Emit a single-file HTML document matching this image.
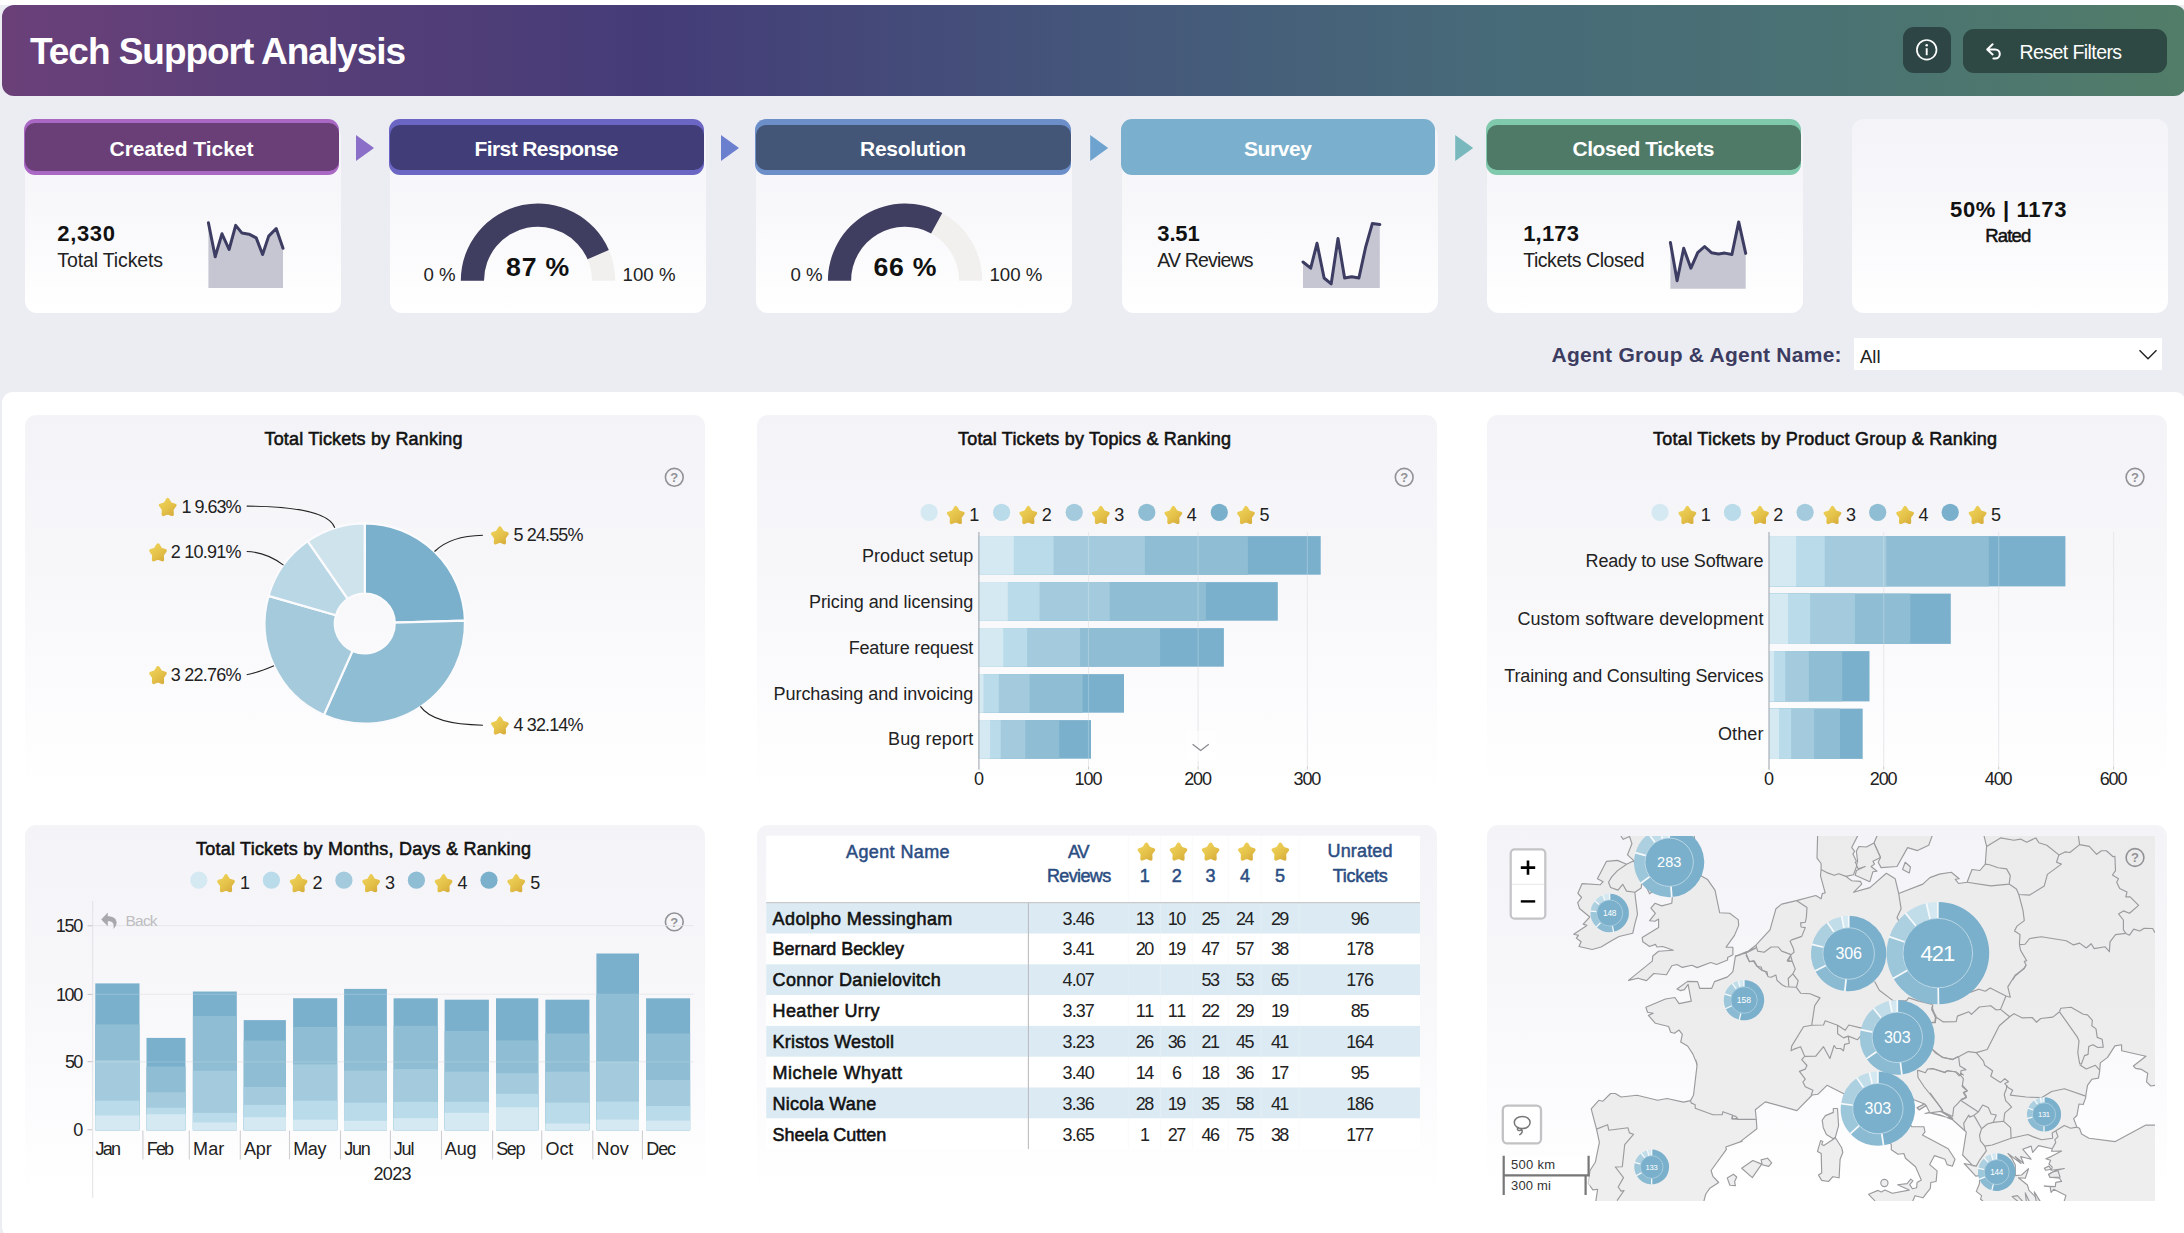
<!DOCTYPE html>
<html lang="en"><head><meta charset="utf-8"><title>Tech Support Analysis</title>
<style>
html,body{margin:0;padding:0;}
body{width:2184px;height:1233px;overflow:hidden;position:relative;background:#ecedf3;font-family:"Liberation Sans", sans-serif;}
#top{position:absolute;left:0;top:0;width:2184px;height:5px;background:#fff;}
#boxes div{position:absolute;box-sizing:border-box;}
#ov{position:absolute;left:0;top:0;}
#ov text{font-family:"Liberation Sans", sans-serif;}
</style></head><body>
<div id="top"></div>
<div id="boxes">
<div style="left:2px;top:5px;width:2184px;height:91px;border-radius:12px;background:linear-gradient(90deg,#6b4079 0%,#5a3f78 12%,#443c77 30%,#44567a 50%,#476a78 68%,#4a7273 84%,#4e786d 93%,#527d68 100%);"></div>
<div style="left:1903px;top:27px;width:48px;height:46px;border-radius:11px;background:#2d4645;"></div>
<div style="left:1963px;top:29px;width:204px;height:44px;border-radius:11px;background:#2e4843;"></div>
<div style="left:25px;top:125px;width:316px;height:187.5px;background:linear-gradient(180deg,#f4f4f8 0%,#f8f8fb 45%,#ffffff 100%);border-radius:12px;"></div>
<div style="left:24px;top:119px;width:315px;height:55.5px;border-radius:11px;background:#a968c4;"></div>
<div style="left:24.5px;top:123.2px;width:314px;height:48.2px;border-radius:10px;background:#6a3f77;"></div>
<div style="left:389.5px;top:125px;width:316px;height:187.5px;background:linear-gradient(180deg,#f4f4f8 0%,#f8f8fb 45%,#ffffff 100%);border-radius:12px;"></div>
<div style="left:389px;top:119px;width:315px;height:55.5px;border-radius:11px;background:#6b66c4;"></div>
<div style="left:389.5px;top:125px;width:314px;height:44.6px;border-radius:10px;background:#403d78;"></div>
<div style="left:755.5px;top:125px;width:316px;height:187.5px;background:linear-gradient(180deg,#f4f4f8 0%,#f8f8fb 45%,#ffffff 100%);border-radius:12px;"></div>
<div style="left:755px;top:119px;width:316px;height:55.5px;border-radius:11px;background:#6d8fc9;"></div>
<div style="left:755.5px;top:125px;width:315px;height:44.6px;border-radius:10px;background:#435678;"></div>
<div style="left:1122px;top:125px;width:316px;height:187.5px;background:linear-gradient(180deg,#f4f4f8 0%,#f8f8fb 45%,#ffffff 100%);border-radius:12px;"></div>
<div style="left:1121px;top:119px;width:314px;height:55.5px;border-radius:11px;background:#7ab0cd;"></div>
<div style="left:1487px;top:125px;width:316px;height:187.5px;background:linear-gradient(180deg,#f4f4f8 0%,#f8f8fb 45%,#ffffff 100%);border-radius:12px;"></div>
<div style="left:1486px;top:119px;width:315px;height:55.5px;border-radius:11px;background:#81c9ad;"></div>
<div style="left:1486.5px;top:125px;width:314px;height:44.6px;border-radius:10px;background:#4f7a68;"></div>
<div style="left:1852px;top:119px;width:315.5px;height:193.5px;background:linear-gradient(180deg,#f4f4f8 0%,#f8f8fb 45%,#ffffff 100%);border-radius:12px;"></div>
<div style="left:1854px;top:338px;width:308px;height:31.7px;background:#fff;"></div>
<div style="left:2px;top:392px;width:2184px;height:846px;background:#fff;border-radius:11px;"></div>
<div style="left:25px;top:415px;width:680px;height:380px;border-radius:11px;background:linear-gradient(180deg,#f4f4f8 0%,#f7f7fa 40%,#fdfdfe 85%,#ffffff 100%);"></div>
<div style="left:25px;top:825px;width:680px;height:372px;border-radius:11px;background:linear-gradient(180deg,#f4f4f8 0%,#f7f7fa 40%,#fdfdfe 85%,#ffffff 100%);"></div>
<div style="left:757px;top:415px;width:680px;height:380px;border-radius:11px;background:linear-gradient(180deg,#f4f4f8 0%,#f7f7fa 40%,#fdfdfe 85%,#ffffff 100%);"></div>
<div style="left:757px;top:825px;width:680px;height:372px;border-radius:11px;background:linear-gradient(180deg,#f4f4f8 0%,#f7f7fa 40%,#fdfdfe 85%,#ffffff 100%);"></div>
<div style="left:1487px;top:415px;width:680px;height:380px;border-radius:11px;background:linear-gradient(180deg,#f4f4f8 0%,#f7f7fa 40%,#fdfdfe 85%,#ffffff 100%);"></div>
<div style="left:1487px;top:825px;width:680px;height:372px;border-radius:11px;background:linear-gradient(180deg,#f4f4f8 0%,#f7f7fa 40%,#fdfdfe 85%,#ffffff 100%);"></div>
</div>
<svg id="ov" width="2184" height="1233" viewBox="0 0 2184 1233">
<defs><symbol id="star" overflow="visible"><path d="M0.00,-7.40 L2.62,-3.15 L7.13,-1.75 L4.23,2.28 L4.41,7.39 L0.00,5.63 L-4.41,7.39 L-4.23,2.28 L-7.13,-1.75 L-2.62,-3.15 Z" fill="url(#sg)" stroke="url(#sg)" stroke-width="3.4" stroke-linejoin="round"/></symbol><linearGradient id="sg" gradientUnits="userSpaceOnUse" x1="-7" y1="-8" x2="7" y2="9"><stop offset="0" stop-color="#efd25a"/><stop offset="0.5" stop-color="#e5c34a"/><stop offset="1" stop-color="#d5a939"/></linearGradient></defs>
<text x="30.0" y="64.0" font-size="37" font-weight="700" fill="#fff" textLength="376.0" lengthAdjust="spacing">Tech Support Analysis</text>
<g transform="translate(1926.7,49.8)"><circle r="9.8" fill="none" stroke="#fff" stroke-width="1.7"/><rect x="-0.95" y="-1.6" width="1.9" height="7" fill="#fff"/><circle cy="-4.6" r="1.25" fill="#fff"/></g>
<path d="M1992.6,44.2 L1987.2,49.4 L1992.6,54.4 M1987.6,49.4 H1995.2 a4.6,4.6 0 0 1 0,9.2 H1993.4" fill="none" stroke="#fff" stroke-width="2" stroke-linecap="round" stroke-linejoin="round"/>
<text x="2019.6" y="59.0" font-size="19.5" fill="#fff" textLength="102.5" lengthAdjust="spacing">Reset Filters</text>
<text x="181.5" y="156.3" font-size="21" font-weight="700" fill="#fff" text-anchor="middle" textLength="144.0" lengthAdjust="spacing">Created Ticket</text>
<path d="M356,135 L374,148 L356,161 Z" fill="#8a6ec8"/>
<text x="546.5" y="156.3" font-size="21" font-weight="700" fill="#fff" text-anchor="middle" textLength="144.0" lengthAdjust="spacing">First Response</text>
<path d="M721,135 L739,148 L721,161 Z" fill="#6b7fcf"/>
<text x="913.0" y="156.3" font-size="21" font-weight="700" fill="#fff" text-anchor="middle" textLength="106.0" lengthAdjust="spacing">Resolution</text>
<path d="M1090.2,135 L1108.2,148 L1090.2,161 Z" fill="#6fa3cf"/>
<text x="1278.0" y="156.3" font-size="21" font-weight="700" fill="#fff" text-anchor="middle" textLength="68.0" lengthAdjust="spacing">Survey</text>
<path d="M1455.2,135 L1473.2,148 L1455.2,161 Z" fill="#79b9bd"/>
<text x="1643.5" y="156.3" font-size="21" font-weight="700" fill="#fff" text-anchor="middle" textLength="142.0" lengthAdjust="spacing">Closed Tickets</text>
<text x="57.3" y="241.0" font-size="22" font-weight="700" fill="#111" textLength="57.7" lengthAdjust="spacing">2,330</text>
<text x="57.3" y="266.5" font-size="19.5" fill="#222" textLength="105.7" lengthAdjust="spacing">Total Tickets</text>
<path d="M208.4,222.8 L215.2,256.7 L222.0,233.8 L229.1,249.5 L235.7,225.4 L242.0,233.1 L249.0,234.2 L256.2,237.9 L262.6,254.5 L268.7,236.1 L276.2,228.5 L283.0,248.3 L283.0,287.9 L208.4,287.9 Z" fill="#c6c6d2"/>
<path d="M208.4,222.8 L215.2,256.7 L222.0,233.8 L229.1,249.5 L235.7,225.4 L242.0,233.1 L249.0,234.2 L256.2,237.9 L262.6,254.5 L268.7,236.1 L276.2,228.5 L283.0,248.3" fill="none" stroke="#3d3d63" stroke-width="3" stroke-linejoin="round" stroke-linecap="round"/>
<path d="M460.80,280.70 A77.2,77.2 0 0 1 615.20,280.70 L592.00,280.70 A54,54 0 0 0 484.00,280.70 Z" fill="#f1f0ee"/>
<path d="M460.80,280.70 A77.2,77.2 0 0 1 608.85,250.04 L587.56,259.25 A54,54 0 0 0 484.00,280.70 Z" fill="#403e60"/>
<text x="537.6" y="276.2" font-size="26.67" font-weight="700" fill="#111" text-anchor="middle" textLength="63.0" lengthAdjust="spacing">87 %</text>
<text x="423.4" y="280.7" font-size="18.67" fill="#222">0 %</text>
<text x="622.6" y="280.7" font-size="18.67" fill="#222">100 %</text>
<path d="M827.90,280.70 A77.2,77.2 0 0 1 982.30,280.70 L959.10,280.70 A54,54 0 0 0 851.10,280.70 Z" fill="#f1f0ee"/>
<path d="M827.90,280.70 A77.2,77.2 0 0 1 942.29,213.05 L931.11,233.38 A54,54 0 0 0 851.10,280.70 Z" fill="#403e60"/>
<text x="904.9" y="276.2" font-size="26.67" font-weight="700" fill="#111" text-anchor="middle" textLength="63.0" lengthAdjust="spacing">66 %</text>
<text x="790.5" y="280.7" font-size="18.67" fill="#222">0 %</text>
<text x="989.4" y="280.7" font-size="18.67" fill="#222">100 %</text>
<text x="1157.3" y="241.0" font-size="22" font-weight="700" fill="#111" textLength="42.4" lengthAdjust="spacing">3.51</text>
<text x="1157.3" y="266.5" font-size="19.5" fill="#222" textLength="96.3" lengthAdjust="spacing">AV Reviews</text>
<path d="M1303.0,262.0 L1310.7,268.2 L1317.0,243.3 L1324.1,278.0 L1331.2,283.8 L1338.0,238.5 L1344.6,278.0 L1351.7,276.8 L1358.9,278.0 L1365.5,247.7 L1372.3,223.6 L1379.8,224.5 L1379.8,287.9 L1303.0,287.9 Z" fill="#c6c6d2"/>
<path d="M1303.0,262.0 L1310.7,268.2 L1317.0,243.3 L1324.1,278.0 L1331.2,283.8 L1338.0,238.5 L1344.6,278.0 L1351.7,276.8 L1358.9,278.0 L1365.5,247.7 L1372.3,223.6 L1379.8,224.5" fill="none" stroke="#3d3d63" stroke-width="3" stroke-linejoin="round" stroke-linecap="round"/>
<text x="1523.2" y="241.0" font-size="22" font-weight="700" fill="#111" textLength="55.8" lengthAdjust="spacing">1,173</text>
<text x="1523.2" y="267.4" font-size="19.5" fill="#222" textLength="121.3" lengthAdjust="spacing">Tickets Closed</text>
<path d="M1670.4,242.4 L1677.1,280.7 L1683.7,248.3 L1690.9,268.2 L1697.7,252.7 L1704.6,246.5 L1711.4,252.7 L1718.5,254.0 L1724.8,253.1 L1731.9,254.5 L1738.7,221.9 L1745.7,253.4 L1745.7,288.8 L1670.4,288.8 Z" fill="#c6c6d2"/>
<path d="M1670.4,242.4 L1677.1,280.7 L1683.7,248.3 L1690.9,268.2 L1697.7,252.7 L1704.6,246.5 L1711.4,252.7 L1718.5,254.0 L1724.8,253.1 L1731.9,254.5 L1738.7,221.9 L1745.7,253.4" fill="none" stroke="#3d3d63" stroke-width="3" stroke-linejoin="round" stroke-linecap="round"/>
<text x="2008.2" y="216.9" font-size="22" font-weight="700" fill="#111" text-anchor="middle" textLength="116.4" lengthAdjust="spacing">50% | 1173</text>
<text x="2008.2" y="241.8" font-size="18.5" fill="#111" text-anchor="middle" textLength="46.0" lengthAdjust="spacing" stroke="#111" stroke-width="0.5" paint-order="stroke">Rated</text>
<text x="1551.6" y="362.0" font-size="21" font-weight="700" fill="#3c3c61" textLength="290.0" lengthAdjust="spacing">Agent Group &amp; Agent Name:</text>
<text x="1860.0" y="363.4" font-size="18.5" fill="#222">All</text>
<path d="M2139.5,350.3 L2148,358.8 L2156.5,350.3" fill="none" stroke="#222" stroke-width="1.4"/>
<text x="363.5" y="445.4" font-size="18" fill="#111" text-anchor="middle" textLength="198.0" lengthAdjust="spacing" stroke="#111" stroke-width="0.55" paint-order="stroke">Total Tickets by Ranking</text>
<g transform="translate(674.3,477.3)"><circle r="8.9" fill="none" stroke="#929296" stroke-width="1.6"/><text x="0" y="4.6" font-size="13" font-weight="700" fill="#929296" text-anchor="middle">?</text></g>
<path d="M364.80,523.30 A100.2,100.2 0 0 1 464.96,620.67 L394.79,622.65 A30,30 0 0 0 364.80,593.50 Z" fill="#7ab0cc" stroke="#fbfbfd" stroke-width="2.2" stroke-linejoin="round"/>
<path d="M464.96,620.67 A100.2,100.2 0 0 1 323.91,714.98 L352.56,650.89 A30,30 0 0 0 394.79,622.65 Z" fill="#8fbdd3" stroke="#fbfbfd" stroke-width="2.2" stroke-linejoin="round"/>
<path d="M323.91,714.98 A100.2,100.2 0 0 1 268.49,595.85 L335.97,615.22 A30,30 0 0 0 352.56,650.89 Z" fill="#a4cadc" stroke="#fbfbfd" stroke-width="2.2" stroke-linejoin="round"/>
<path d="M268.49,595.85 A100.2,100.2 0 0 1 307.75,541.13 L347.72,598.84 A30,30 0 0 0 335.97,615.22 Z" fill="#b9d7e5" stroke="#fbfbfd" stroke-width="2.2" stroke-linejoin="round"/>
<path d="M307.75,541.13 A100.2,100.2 0 0 1 364.74,523.30 L364.78,593.50 A30,30 0 0 0 347.72,598.84 Z" fill="#cfe3ec" stroke="#fbfbfd" stroke-width="2.2" stroke-linejoin="round"/>
<path d="M246.7,506.1 C292,506.3 329,512 334.8,527.7" fill="none" stroke="#222" stroke-width="1.1"/>
<path d="M246.7,551.5 C262,551.8 274,558 283.5,565.1" fill="none" stroke="#222" stroke-width="1.1"/>
<path d="M246.7,674.8 C256,673 265,669.5 274,665.7" fill="none" stroke="#222" stroke-width="1.1"/>
<path d="M482.9,535.2 C462,535.6 446,540 434.5,551.5" fill="none" stroke="#222" stroke-width="1.1"/>
<path d="M482.9,725.2 C455,724.8 430,720 420.4,706.4" fill="none" stroke="#222" stroke-width="1.1"/>
<use href="#star" transform="translate(167.7,507.0) scale(1.0)"/>
<text x="181.6" y="512.9" font-size="18" fill="#222" textLength="59.9" lengthAdjust="spacing">1 9.63%</text>
<use href="#star" transform="translate(158.0,552.4) scale(1.0)"/>
<text x="170.7" y="558.3" font-size="18" fill="#222" textLength="70.8" lengthAdjust="spacing">2 10.91%</text>
<use href="#star" transform="translate(158.0,675.1) scale(1.0)"/>
<text x="170.7" y="681.0" font-size="18" fill="#222" textLength="70.8" lengthAdjust="spacing">3 22.76%</text>
<use href="#star" transform="translate(499.9,535.4) scale(1.0)"/>
<text x="513.5" y="541.3" font-size="18" fill="#222" textLength="70.0" lengthAdjust="spacing">5 24.55%</text>
<use href="#star" transform="translate(499.9,725.5) scale(1.0)"/>
<text x="513.5" y="731.4" font-size="18" fill="#222" textLength="70.0" lengthAdjust="spacing">4 32.14%</text>
<text x="1094.5" y="445.4" font-size="18" fill="#111" text-anchor="middle" textLength="273.0" lengthAdjust="spacing" stroke="#111" stroke-width="0.55" paint-order="stroke">Total Tickets by Topics &amp; Ranking</text>
<g transform="translate(1404.2,477.3)"><circle r="8.9" fill="none" stroke="#929296" stroke-width="1.6"/><text x="0" y="4.6" font-size="13" font-weight="700" fill="#929296" text-anchor="middle">?</text></g>
<circle cx="929.1" cy="512.4" r="8.6" fill="#d5e9f2"/>
<use href="#star" transform="translate(955.8,515.0) scale(1.0)"/>
<text x="969.2" y="521.1" font-size="18" fill="#222">1</text>
<circle cx="1001.6" cy="512.4" r="8.6" fill="#b9dbea"/>
<use href="#star" transform="translate(1028.3,515.0) scale(1.0)"/>
<text x="1041.8" y="521.1" font-size="18" fill="#222">2</text>
<circle cx="1074.2" cy="512.4" r="8.6" fill="#a4cbdd"/>
<use href="#star" transform="translate(1100.9,515.0) scale(1.0)"/>
<text x="1114.3" y="521.1" font-size="18" fill="#222">3</text>
<circle cx="1146.8" cy="512.4" r="8.6" fill="#8fbdd3"/>
<use href="#star" transform="translate(1173.4,515.0) scale(1.0)"/>
<text x="1186.8" y="521.1" font-size="18" fill="#222">4</text>
<circle cx="1219.3" cy="512.4" r="8.6" fill="#7ab0cc"/>
<use href="#star" transform="translate(1246.0,515.0) scale(1.0)"/>
<text x="1259.4" y="521.1" font-size="18" fill="#222">5</text>
<line x1="1088.5" y1="532" x2="1088.5" y2="766.5" stroke="#e3e3e6" stroke-width="1"/>
<line x1="1198.1" y1="532" x2="1198.1" y2="766.5" stroke="#e3e3e6" stroke-width="1"/>
<line x1="1307.4" y1="532" x2="1307.4" y2="766.5" stroke="#e3e3e6" stroke-width="1"/>
<rect x="978.9" y="536.1" width="341.8" height="38.6" fill="#7ab0cc"/>
<rect x="978.9" y="536.1" width="269.0" height="38.6" fill="#8fbdd3"/>
<rect x="978.9" y="536.1" width="165.9" height="38.6" fill="#a4cbdd"/>
<rect x="978.9" y="536.1" width="74.7" height="38.6" fill="#b9dbea"/>
<rect x="978.9" y="536.1" width="34.9" height="38.6" fill="#d5e9f2"/>
<text x="973.3" y="561.6" font-size="18" fill="#222" text-anchor="end" textLength="111.2" lengthAdjust="spacing">Product setup</text>
<rect x="978.9" y="582.1" width="298.9" height="38.6" fill="#7ab0cc"/>
<rect x="978.9" y="582.1" width="227.0" height="38.6" fill="#8fbdd3"/>
<rect x="978.9" y="582.1" width="130.8" height="38.6" fill="#a4cbdd"/>
<rect x="978.9" y="582.1" width="60.7" height="38.6" fill="#b9dbea"/>
<rect x="978.9" y="582.1" width="28.9" height="38.6" fill="#d5e9f2"/>
<text x="973.3" y="607.7" font-size="18" fill="#222" text-anchor="end" textLength="164.4" lengthAdjust="spacing">Pricing and licensing</text>
<rect x="978.9" y="628.1" width="245.0" height="38.6" fill="#7ab0cc"/>
<rect x="978.9" y="628.1" width="181.2" height="38.6" fill="#8fbdd3"/>
<rect x="978.9" y="628.1" width="101.2" height="38.6" fill="#a4cbdd"/>
<rect x="978.9" y="628.1" width="48.2" height="38.6" fill="#b9dbea"/>
<rect x="978.9" y="628.1" width="24.3" height="38.6" fill="#d5e9f2"/>
<text x="973.3" y="653.5" font-size="18" fill="#222" text-anchor="end" textLength="124.6" lengthAdjust="spacing">Feature request</text>
<rect x="978.9" y="674.1" width="145.1" height="38.6" fill="#7ab0cc"/>
<rect x="978.9" y="674.1" width="103.7" height="38.6" fill="#8fbdd3"/>
<rect x="978.9" y="674.1" width="50.7" height="38.6" fill="#a4cbdd"/>
<rect x="978.9" y="674.1" width="19.9" height="38.6" fill="#b9dbea"/>
<rect x="978.9" y="674.1" width="4.6" height="38.6" fill="#d5e9f2"/>
<text x="973.3" y="699.5" font-size="18" fill="#222" text-anchor="end" textLength="199.9" lengthAdjust="spacing">Purchasing and invoicing</text>
<rect x="978.9" y="720.1" width="112.1" height="38.6" fill="#7ab0cc"/>
<rect x="978.9" y="720.1" width="80.3" height="38.6" fill="#8fbdd3"/>
<rect x="978.9" y="720.1" width="46.4" height="38.6" fill="#a4cbdd"/>
<rect x="978.9" y="720.1" width="21.8" height="38.6" fill="#b9dbea"/>
<rect x="978.9" y="720.1" width="11.2" height="38.6" fill="#d5e9f2"/>
<text x="973.3" y="745.3" font-size="18" fill="#222" text-anchor="end" textLength="85.3" lengthAdjust="spacing">Bug report</text>
<line x1="1088.5" y1="532" x2="1088.5" y2="766.5" stroke="#ffffff" stroke-opacity="0.22" stroke-width="1.2"/>
<line x1="1198.1" y1="532" x2="1198.1" y2="766.5" stroke="#ffffff" stroke-opacity="0.22" stroke-width="1.2"/>
<line x1="1307.4" y1="532" x2="1307.4" y2="766.5" stroke="#ffffff" stroke-opacity="0.22" stroke-width="1.2"/>
<line x1="978.9" y1="532" x2="978.9" y2="769.5" stroke="#a9b1b8" stroke-width="1.2"/>
<line x1="978.9" y1="766.5" x2="978.9" y2="769.5" stroke="#c8c8cc" stroke-width="1"/>
<text x="978.9" y="785.2" font-size="18" fill="#222" text-anchor="middle">0</text>
<line x1="1088.5" y1="766.5" x2="1088.5" y2="769.5" stroke="#c8c8cc" stroke-width="1"/>
<text x="1088.5" y="785.2" font-size="18" fill="#222" text-anchor="middle" textLength="27.8" lengthAdjust="spacing">100</text>
<line x1="1198.1" y1="766.5" x2="1198.1" y2="769.5" stroke="#c8c8cc" stroke-width="1"/>
<text x="1198.1" y="785.2" font-size="18" fill="#222" text-anchor="middle" textLength="27.8" lengthAdjust="spacing">200</text>
<line x1="1307.4" y1="766.5" x2="1307.4" y2="769.5" stroke="#c8c8cc" stroke-width="1"/>
<text x="1307.4" y="785.2" font-size="18" fill="#222" text-anchor="middle" textLength="27.8" lengthAdjust="spacing">300</text>
<rect x="1185.6" y="731" width="31" height="30" fill="#ffffff" fill-opacity="0.55"/>
<path d="M1192.6,744.2 L1200.7,750.4 L1208.8,744.2" fill="none" stroke="#8a8a8e" stroke-width="1.3"/>
<text x="1825.0" y="445.4" font-size="18" fill="#111" text-anchor="middle" textLength="344.0" lengthAdjust="spacing" stroke="#111" stroke-width="0.55" paint-order="stroke">Total Tickets by Product Group &amp; Ranking</text>
<g transform="translate(2135,477.3)"><circle r="8.9" fill="none" stroke="#929296" stroke-width="1.6"/><text x="0" y="4.6" font-size="13" font-weight="700" fill="#929296" text-anchor="middle">?</text></g>
<circle cx="1660.0" cy="512.4" r="8.6" fill="#d5e9f2"/>
<use href="#star" transform="translate(1687.4,515.0) scale(1.0)"/>
<text x="1700.8" y="521.1" font-size="18" fill="#222">1</text>
<circle cx="1732.5" cy="512.4" r="8.6" fill="#b9dbea"/>
<use href="#star" transform="translate(1760.0,515.0) scale(1.0)"/>
<text x="1773.3" y="521.1" font-size="18" fill="#222">2</text>
<circle cx="1805.1" cy="512.4" r="8.6" fill="#a4cbdd"/>
<use href="#star" transform="translate(1832.5,515.0) scale(1.0)"/>
<text x="1845.9" y="521.1" font-size="18" fill="#222">3</text>
<circle cx="1877.7" cy="512.4" r="8.6" fill="#8fbdd3"/>
<use href="#star" transform="translate(1905.1,515.0) scale(1.0)"/>
<text x="1918.4" y="521.1" font-size="18" fill="#222">4</text>
<circle cx="1950.2" cy="512.4" r="8.6" fill="#7ab0cc"/>
<use href="#star" transform="translate(1977.6,515.0) scale(1.0)"/>
<text x="1991.0" y="521.1" font-size="18" fill="#222">5</text>
<line x1="1883.7" y1="532" x2="1883.7" y2="766.5" stroke="#e3e3e6" stroke-width="1"/>
<line x1="1998.7" y1="532" x2="1998.7" y2="766.5" stroke="#e3e3e6" stroke-width="1"/>
<line x1="2113.6" y1="532" x2="2113.6" y2="766.5" stroke="#e3e3e6" stroke-width="1"/>
<rect x="1769.0" y="536.1" width="296.4" height="50.3" fill="#7ab0cc"/>
<rect x="1769.0" y="536.1" width="219.8" height="50.3" fill="#8fbdd3"/>
<rect x="1769.0" y="536.1" width="117.4" height="50.3" fill="#a4cbdd"/>
<rect x="1769.0" y="536.1" width="55.7" height="50.3" fill="#b9dbea"/>
<rect x="1769.0" y="536.1" width="27.1" height="50.3" fill="#d5e9f2"/>
<text x="1763.4" y="567.2" font-size="18" fill="#222" text-anchor="end" textLength="177.8" lengthAdjust="spacing">Ready to use Software</text>
<rect x="1769.0" y="593.6" width="181.8" height="50.3" fill="#7ab0cc"/>
<rect x="1769.0" y="593.6" width="141.3" height="50.3" fill="#8fbdd3"/>
<rect x="1769.0" y="593.6" width="85.9" height="50.3" fill="#a4cbdd"/>
<rect x="1769.0" y="593.6" width="41.1" height="50.3" fill="#b9dbea"/>
<rect x="1769.0" y="593.6" width="19.0" height="50.3" fill="#d5e9f2"/>
<text x="1763.4" y="624.5" font-size="18" fill="#222" text-anchor="end" textLength="246.0" lengthAdjust="spacing">Custom software development</text>
<rect x="1769.0" y="651.1" width="100.5" height="50.3" fill="#7ab0cc"/>
<rect x="1769.0" y="651.1" width="73.2" height="50.3" fill="#8fbdd3"/>
<rect x="1769.0" y="651.1" width="39.8" height="50.3" fill="#a4cbdd"/>
<rect x="1769.0" y="651.1" width="16.2" height="50.3" fill="#b9dbea"/>
<rect x="1769.0" y="651.1" width="5.0" height="50.3" fill="#d5e9f2"/>
<text x="1763.4" y="682.4" font-size="18" fill="#222" text-anchor="end" textLength="259.1" lengthAdjust="spacing">Training and Consulting Services</text>
<rect x="1769.0" y="708.6" width="93.7" height="50.3" fill="#7ab0cc"/>
<rect x="1769.0" y="708.6" width="71.0" height="50.3" fill="#8fbdd3"/>
<rect x="1769.0" y="708.6" width="45.1" height="50.3" fill="#a4cbdd"/>
<rect x="1769.0" y="708.6" width="22.1" height="50.3" fill="#b9dbea"/>
<rect x="1769.0" y="708.6" width="10.0" height="50.3" fill="#d5e9f2"/>
<text x="1763.4" y="739.7" font-size="18" fill="#222" text-anchor="end" textLength="45.5" lengthAdjust="spacing">Other</text>
<line x1="1883.7" y1="532" x2="1883.7" y2="766.5" stroke="#ffffff" stroke-opacity="0.22" stroke-width="1.2"/>
<line x1="1998.7" y1="532" x2="1998.7" y2="766.5" stroke="#ffffff" stroke-opacity="0.22" stroke-width="1.2"/>
<line x1="2113.6" y1="532" x2="2113.6" y2="766.5" stroke="#ffffff" stroke-opacity="0.22" stroke-width="1.2"/>
<line x1="1769" y1="532" x2="1769" y2="769.5" stroke="#a9b1b8" stroke-width="1.2"/>
<line x1="1769" y1="766.5" x2="1769" y2="769.5" stroke="#c8c8cc" stroke-width="1"/>
<text x="1769.0" y="785.2" font-size="18" fill="#222" text-anchor="middle">0</text>
<line x1="1883.7" y1="766.5" x2="1883.7" y2="769.5" stroke="#c8c8cc" stroke-width="1"/>
<text x="1883.7" y="785.2" font-size="18" fill="#222" text-anchor="middle" textLength="27.8" lengthAdjust="spacing">200</text>
<line x1="1998.7" y1="766.5" x2="1998.7" y2="769.5" stroke="#c8c8cc" stroke-width="1"/>
<text x="1998.7" y="785.2" font-size="18" fill="#222" text-anchor="middle" textLength="27.8" lengthAdjust="spacing">400</text>
<line x1="2113.6" y1="766.5" x2="2113.6" y2="769.5" stroke="#c8c8cc" stroke-width="1"/>
<text x="2113.6" y="785.2" font-size="18" fill="#222" text-anchor="middle" textLength="27.8" lengthAdjust="spacing">600</text>
<text x="363.5" y="855.0" font-size="18" fill="#111" text-anchor="middle" textLength="335.0" lengthAdjust="spacing" stroke="#111" stroke-width="0.55" paint-order="stroke">Total Tickets by Months, Days &amp; Ranking</text>
<circle cx="198.8" cy="880.2" r="8.6" fill="#d5e9f2"/>
<use href="#star" transform="translate(226.0,883.2) scale(1.0)"/>
<text x="240.0" y="889.3" font-size="18" fill="#222">1</text>
<circle cx="271.4" cy="880.2" r="8.6" fill="#b9dbea"/>
<use href="#star" transform="translate(298.6,883.2) scale(1.0)"/>
<text x="312.6" y="889.3" font-size="18" fill="#222">2</text>
<circle cx="343.9" cy="880.2" r="8.6" fill="#a4cbdd"/>
<use href="#star" transform="translate(371.1,883.2) scale(1.0)"/>
<text x="385.1" y="889.3" font-size="18" fill="#222">3</text>
<circle cx="416.4" cy="880.2" r="8.6" fill="#8fbdd3"/>
<use href="#star" transform="translate(443.6,883.2) scale(1.0)"/>
<text x="457.6" y="889.3" font-size="18" fill="#222">4</text>
<circle cx="489.0" cy="880.2" r="8.6" fill="#7ab0cc"/>
<use href="#star" transform="translate(516.2,883.2) scale(1.0)"/>
<text x="530.2" y="889.3" font-size="18" fill="#222">5</text>
<g transform="translate(674.3,921.9)"><circle r="8.9" fill="none" stroke="#929296" stroke-width="1.6"/><text x="0" y="4.6" font-size="13" font-weight="700" fill="#929296" text-anchor="middle">?</text></g>
<line x1="92.7" y1="925.7" x2="693.7" y2="925.7" stroke="#e6e6ea" stroke-width="1"/>
<line x1="92.7" y1="994.3" x2="693.7" y2="994.3" stroke="#e6e6ea" stroke-width="1"/>
<line x1="92.7" y1="1061.8" x2="693.7" y2="1061.8" stroke="#e6e6ea" stroke-width="1"/>
<line x1="92.7" y1="901" x2="92.7" y2="1198" stroke="#e2e2e6" stroke-width="1"/>
<text x="83.3" y="932.1" font-size="18" fill="#222" text-anchor="end" textLength="27.6" lengthAdjust="spacing">150</text>
<line x1="87.5" y1="925.8000000000001" x2="92.2" y2="925.8000000000001" stroke="#c4c4c8" stroke-width="1"/>
<text x="83.3" y="1000.7" font-size="18" fill="#222" text-anchor="end" textLength="27.4" lengthAdjust="spacing">100</text>
<line x1="87.5" y1="994.4000000000001" x2="92.2" y2="994.4000000000001" stroke="#c4c4c8" stroke-width="1"/>
<text x="83.3" y="1068.0" font-size="18" fill="#222" text-anchor="end" textLength="18.3" lengthAdjust="spacing">50</text>
<line x1="87.5" y1="1061.7" x2="92.2" y2="1061.7" stroke="#c4c4c8" stroke-width="1"/>
<text x="83.3" y="1136.1" font-size="18" fill="#222" text-anchor="end">0</text>
<line x1="87.5" y1="1129.8" x2="92.2" y2="1129.8" stroke="#c4c4c8" stroke-width="1"/>
<rect x="95.3" y="983.4" width="44.2" height="146.8" fill="#7ab0cc"/>
<rect x="95.3" y="1024.4" width="44.2" height="105.8" fill="#8fbdd3"/>
<rect x="95.3" y="1060.2" width="44.2" height="70.0" fill="#a4cbdd"/>
<rect x="95.3" y="1100.7" width="44.2" height="29.5" fill="#b9dbea"/>
<rect x="95.3" y="1115.5" width="44.2" height="14.7" fill="#d5e9f2"/>
<text x="95.5" y="1155.2" font-size="18" fill="#222" textLength="25.5" lengthAdjust="spacing">Jan</text>
<rect x="146.5" y="1037.9" width="39.0" height="92.3" fill="#7ab0cc"/>
<rect x="146.5" y="1066.5" width="39.0" height="63.7" fill="#8fbdd3"/>
<rect x="146.5" y="1092.3" width="39.0" height="37.9" fill="#a4cbdd"/>
<rect x="146.5" y="1107.7" width="39.0" height="22.5" fill="#b9dbea"/>
<rect x="146.5" y="1114.2" width="39.0" height="16.0" fill="#d5e9f2"/>
<text x="146.7" y="1155.2" font-size="18" fill="#222" textLength="27.4" lengthAdjust="spacing">Feb</text>
<rect x="192.9" y="991.5" width="43.9" height="138.7" fill="#7ab0cc"/>
<rect x="192.9" y="1015.9" width="43.9" height="114.3" fill="#8fbdd3"/>
<rect x="192.9" y="1070.8" width="43.9" height="59.4" fill="#a4cbdd"/>
<rect x="192.9" y="1112.9" width="43.9" height="17.3" fill="#b9dbea"/>
<rect x="192.9" y="1122.4" width="43.9" height="7.8" fill="#d5e9f2"/>
<text x="193.1" y="1155.2" font-size="18" fill="#222" textLength="31.2" lengthAdjust="spacing">Mar</text>
<rect x="243.7" y="1020.1" width="42.2" height="110.1" fill="#7ab0cc"/>
<rect x="243.7" y="1040.6" width="42.2" height="89.6" fill="#8fbdd3"/>
<rect x="243.7" y="1087.0" width="42.2" height="43.2" fill="#a4cbdd"/>
<rect x="243.7" y="1104.9" width="42.2" height="25.3" fill="#b9dbea"/>
<rect x="243.7" y="1117.2" width="42.2" height="13.0" fill="#d5e9f2"/>
<text x="243.9" y="1155.2" font-size="18" fill="#222" textLength="27.8" lengthAdjust="spacing">Apr</text>
<rect x="293.1" y="998.2" width="44.1" height="132.0" fill="#7ab0cc"/>
<rect x="293.1" y="1026.9" width="44.1" height="103.3" fill="#8fbdd3"/>
<rect x="293.1" y="1064.4" width="44.1" height="65.8" fill="#a4cbdd"/>
<rect x="293.1" y="1100.7" width="44.1" height="29.5" fill="#b9dbea"/>
<rect x="293.1" y="1119.7" width="44.1" height="10.5" fill="#d5e9f2"/>
<text x="293.3" y="1155.2" font-size="18" fill="#222" textLength="33.1" lengthAdjust="spacing">May</text>
<rect x="344.1" y="988.9" width="42.8" height="141.3" fill="#7ab0cc"/>
<rect x="344.1" y="1025.8" width="42.8" height="104.4" fill="#8fbdd3"/>
<rect x="344.1" y="1070.6" width="42.8" height="59.6" fill="#a4cbdd"/>
<rect x="344.1" y="1102.7" width="42.8" height="27.5" fill="#b9dbea"/>
<rect x="344.1" y="1120.8" width="42.8" height="9.4" fill="#d5e9f2"/>
<text x="344.3" y="1155.2" font-size="18" fill="#222" textLength="26.4" lengthAdjust="spacing">Jun</text>
<rect x="393.6" y="998.3" width="44.2" height="131.9" fill="#7ab0cc"/>
<rect x="393.6" y="1025.8" width="44.2" height="104.4" fill="#8fbdd3"/>
<rect x="393.6" y="1069.1" width="44.2" height="61.1" fill="#a4cbdd"/>
<rect x="393.6" y="1101.9" width="44.2" height="28.3" fill="#b9dbea"/>
<rect x="393.6" y="1118.2" width="44.2" height="12.0" fill="#d5e9f2"/>
<text x="393.8" y="1155.2" font-size="18" fill="#222" textLength="20.6" lengthAdjust="spacing">Jul</text>
<rect x="444.6" y="999.7" width="44.3" height="130.5" fill="#7ab0cc"/>
<rect x="444.6" y="1030.9" width="44.3" height="99.3" fill="#8fbdd3"/>
<rect x="444.6" y="1071.7" width="44.3" height="58.5" fill="#a4cbdd"/>
<rect x="444.6" y="1101.9" width="44.3" height="28.3" fill="#b9dbea"/>
<rect x="444.6" y="1112.8" width="44.3" height="17.4" fill="#d5e9f2"/>
<text x="444.8" y="1155.2" font-size="18" fill="#222" textLength="31.7" lengthAdjust="spacing">Aug</text>
<rect x="496.0" y="998.3" width="42.3" height="131.9" fill="#7ab0cc"/>
<rect x="496.0" y="1040.4" width="42.3" height="89.8" fill="#8fbdd3"/>
<rect x="496.0" y="1073.2" width="42.3" height="57.0" fill="#a4cbdd"/>
<rect x="496.0" y="1093.9" width="42.3" height="36.3" fill="#b9dbea"/>
<rect x="496.0" y="1107.2" width="42.3" height="23.0" fill="#d5e9f2"/>
<text x="496.2" y="1155.2" font-size="18" fill="#222" textLength="29.2" lengthAdjust="spacing">Sep</text>
<rect x="545.4" y="999.7" width="44.0" height="130.5" fill="#7ab0cc"/>
<rect x="545.4" y="1033.5" width="44.0" height="96.7" fill="#8fbdd3"/>
<rect x="545.4" y="1071.7" width="44.0" height="58.5" fill="#a4cbdd"/>
<rect x="545.4" y="1102.6" width="44.0" height="27.6" fill="#b9dbea"/>
<rect x="545.4" y="1123.5" width="44.0" height="6.7" fill="#d5e9f2"/>
<text x="545.6" y="1155.2" font-size="18" fill="#222" textLength="27.7" lengthAdjust="spacing">Oct</text>
<rect x="596.4" y="953.5" width="42.6" height="176.7" fill="#7ab0cc"/>
<rect x="596.4" y="994.9" width="42.6" height="135.3" fill="#8fbdd3"/>
<rect x="596.4" y="1061.8" width="42.6" height="68.4" fill="#a4cbdd"/>
<rect x="596.4" y="1101.6" width="42.6" height="28.6" fill="#b9dbea"/>
<rect x="596.4" y="1119.6" width="42.6" height="10.6" fill="#d5e9f2"/>
<text x="596.6" y="1155.2" font-size="18" fill="#222" textLength="32.1" lengthAdjust="spacing">Nov</text>
<rect x="646.1" y="998.3" width="44.0" height="131.9" fill="#7ab0cc"/>
<rect x="646.1" y="1033.5" width="44.0" height="96.7" fill="#8fbdd3"/>
<rect x="646.1" y="1080.0" width="44.0" height="50.2" fill="#a4cbdd"/>
<rect x="646.1" y="1106.0" width="44.0" height="24.2" fill="#b9dbea"/>
<rect x="646.1" y="1120.6" width="44.0" height="9.6" fill="#d5e9f2"/>
<text x="646.3" y="1155.2" font-size="18" fill="#222" textLength="29.7" lengthAdjust="spacing">Dec</text>
<line x1="92.7" y1="994.3" x2="693.7" y2="994.3" stroke="#ffffff" stroke-opacity="0.16" stroke-width="1.2"/>
<line x1="92.7" y1="1061.8" x2="693.7" y2="1061.8" stroke="#ffffff" stroke-opacity="0.16" stroke-width="1.2"/>
<line x1="142.9" y1="1130.5" x2="142.9" y2="1159.4" stroke="#cfcfd3" stroke-width="1.1"/>
<line x1="189.3" y1="1130.5" x2="189.3" y2="1159.4" stroke="#cfcfd3" stroke-width="1.1"/>
<line x1="240.3" y1="1130.5" x2="240.3" y2="1159.4" stroke="#cfcfd3" stroke-width="1.1"/>
<line x1="289.5" y1="1130.5" x2="289.5" y2="1159.4" stroke="#cfcfd3" stroke-width="1.1"/>
<line x1="340.5" y1="1130.5" x2="340.5" y2="1159.4" stroke="#cfcfd3" stroke-width="1.1"/>
<line x1="390.4" y1="1130.5" x2="390.4" y2="1159.4" stroke="#cfcfd3" stroke-width="1.1"/>
<line x1="441.5" y1="1130.5" x2="441.5" y2="1159.4" stroke="#cfcfd3" stroke-width="1.1"/>
<line x1="492.6" y1="1130.5" x2="492.6" y2="1159.4" stroke="#cfcfd3" stroke-width="1.1"/>
<line x1="541.7" y1="1130.5" x2="541.7" y2="1159.4" stroke="#cfcfd3" stroke-width="1.1"/>
<line x1="592.8" y1="1130.5" x2="592.8" y2="1159.4" stroke="#cfcfd3" stroke-width="1.1"/>
<line x1="642.4" y1="1130.5" x2="642.4" y2="1159.4" stroke="#cfcfd3" stroke-width="1.1"/>
<text x="392.5" y="1179.6" font-size="18" fill="#222" text-anchor="middle" textLength="38.2" lengthAdjust="spacing">2023</text>
<path d="M107.8,912.5 L101.2,919.4 L107.8,926.2 V921.3 C111.6,921.2 114.8,922.8 113.4,928.9 C118.8,924.2 117.8,916.4 107.8,916.2 Z" fill="#a9a9ad"/>
<text x="125.5" y="925.5" font-size="15.5" fill="#bdbdc1" textLength="32.1" lengthAdjust="spacing">Back</text>
<rect x="766.2" y="835.8" width="653.8" height="313.3" fill="#ffffff"/>
<rect x="766.2" y="902.7" width="653.8" height="30.8" fill="#dcebf3"/>
<rect x="766.2" y="964.3" width="653.8" height="30.8" fill="#dcebf3"/>
<rect x="766.2" y="1025.9" width="653.8" height="30.8" fill="#dcebf3"/>
<rect x="766.2" y="1087.5" width="653.8" height="30.8" fill="#dcebf3"/>
<line x1="1128.3" y1="835.8" x2="1128.3" y2="1149.1" stroke="#eef0f3" stroke-opacity="0.35" stroke-width="1"/>
<line x1="1160.4" y1="835.8" x2="1160.4" y2="1149.1" stroke="#eef0f3" stroke-opacity="0.35" stroke-width="1"/>
<line x1="1192.3" y1="835.8" x2="1192.3" y2="1149.1" stroke="#eef0f3" stroke-opacity="0.35" stroke-width="1"/>
<line x1="1228.3" y1="835.8" x2="1228.3" y2="1149.1" stroke="#eef0f3" stroke-opacity="0.35" stroke-width="1"/>
<line x1="1261.2" y1="835.8" x2="1261.2" y2="1149.1" stroke="#eef0f3" stroke-opacity="0.35" stroke-width="1"/>
<line x1="1299.2" y1="835.8" x2="1299.2" y2="1149.1" stroke="#eef0f3" stroke-opacity="0.35" stroke-width="1"/>
<line x1="766.2" y1="902.7" x2="1420.0" y2="902.7" stroke="#c9c9cc" stroke-width="1.2"/>
<line x1="1028.4" y1="902.7" x2="1028.4" y2="1149.1" stroke="#bdbdc0" stroke-width="1.1"/>
<text x="897.8" y="857.6" font-size="18" fill="#2b4d82" text-anchor="middle" textLength="103.5" lengthAdjust="spacing" stroke="#2b4d82" stroke-width="0.5" paint-order="stroke">Agent Name</text>
<text x="1078.8" y="857.5" font-size="18" fill="#2b4d82" text-anchor="middle" textLength="21.4" lengthAdjust="spacing" stroke="#2b4d82" stroke-width="0.5" paint-order="stroke">AV</text>
<text x="1079.1" y="881.8" font-size="18" fill="#2b4d82" text-anchor="middle" textLength="64.2" lengthAdjust="spacing" stroke="#2b4d82" stroke-width="0.5" paint-order="stroke">Reviews</text>
<use href="#star" transform="translate(1146.4,851.6) scale(1.0)"/>
<text x="1144.8" y="881.8" font-size="18" fill="#2b4d82" text-anchor="middle" stroke="#2b4d82" stroke-width="0.5" paint-order="stroke">1</text>
<use href="#star" transform="translate(1178.5,851.6) scale(1.0)"/>
<text x="1176.8" y="881.8" font-size="18" fill="#2b4d82" text-anchor="middle" stroke="#2b4d82" stroke-width="0.5" paint-order="stroke">2</text>
<use href="#star" transform="translate(1210.6,851.6) scale(1.0)"/>
<text x="1210.6" y="881.8" font-size="18" fill="#2b4d82" text-anchor="middle" stroke="#2b4d82" stroke-width="0.5" paint-order="stroke">3</text>
<use href="#star" transform="translate(1246.8,851.6) scale(1.0)"/>
<text x="1245.0" y="881.8" font-size="18" fill="#2b4d82" text-anchor="middle" stroke="#2b4d82" stroke-width="0.5" paint-order="stroke">4</text>
<use href="#star" transform="translate(1280.3,851.6) scale(1.0)"/>
<text x="1279.9" y="881.8" font-size="18" fill="#2b4d82" text-anchor="middle" stroke="#2b4d82" stroke-width="0.5" paint-order="stroke">5</text>
<text x="1360.0" y="857.4" font-size="18" fill="#2b4d82" text-anchor="middle" textLength="65.0" lengthAdjust="spacing" stroke="#2b4d82" stroke-width="0.5" paint-order="stroke">Unrated</text>
<text x="1360.2" y="881.8" font-size="18" fill="#2b4d82" text-anchor="middle" textLength="55.1" lengthAdjust="spacing" stroke="#2b4d82" stroke-width="0.5" paint-order="stroke">Tickets</text>
<text x="772.6" y="924.5" font-size="18" fill="#111" textLength="179.7" lengthAdjust="spacing" stroke="#111" stroke-width="0.55" paint-order="stroke">Adolpho Messingham</text>
<text x="1078.7" y="924.5" font-size="18" fill="#222" text-anchor="middle" textLength="32.2" lengthAdjust="spacing">3.46</text>
<text x="1145.0" y="924.5" font-size="18" fill="#222" text-anchor="middle" textLength="18.4" lengthAdjust="spacing">13</text>
<text x="1177.0" y="924.5" font-size="18" fill="#222" text-anchor="middle" textLength="18.4" lengthAdjust="spacing">10</text>
<text x="1210.8" y="924.5" font-size="18" fill="#222" text-anchor="middle" textLength="18.4" lengthAdjust="spacing">25</text>
<text x="1245.2" y="924.5" font-size="18" fill="#222" text-anchor="middle" textLength="18.4" lengthAdjust="spacing">24</text>
<text x="1280.1" y="924.5" font-size="18" fill="#222" text-anchor="middle" textLength="18.4" lengthAdjust="spacing">29</text>
<text x="1360.1" y="924.5" font-size="18" fill="#222" text-anchor="middle" textLength="18.6" lengthAdjust="spacing">96</text>
<text x="772.6" y="955.4" font-size="18" fill="#111" textLength="131.3" lengthAdjust="spacing" stroke="#111" stroke-width="0.55" paint-order="stroke">Bernard Beckley</text>
<text x="1078.7" y="955.4" font-size="18" fill="#222" text-anchor="middle" textLength="32.2" lengthAdjust="spacing">3.41</text>
<text x="1145.0" y="955.4" font-size="18" fill="#222" text-anchor="middle" textLength="18.4" lengthAdjust="spacing">20</text>
<text x="1177.0" y="955.4" font-size="18" fill="#222" text-anchor="middle" textLength="18.4" lengthAdjust="spacing">19</text>
<text x="1210.8" y="955.4" font-size="18" fill="#222" text-anchor="middle" textLength="18.4" lengthAdjust="spacing">47</text>
<text x="1245.2" y="955.4" font-size="18" fill="#222" text-anchor="middle" textLength="18.4" lengthAdjust="spacing">57</text>
<text x="1280.1" y="955.4" font-size="18" fill="#222" text-anchor="middle" textLength="18.4" lengthAdjust="spacing">38</text>
<text x="1360.1" y="955.4" font-size="18" fill="#222" text-anchor="middle" textLength="27.6" lengthAdjust="spacing">178</text>
<text x="772.6" y="986.2" font-size="18" fill="#111" textLength="168.1" lengthAdjust="spacing" stroke="#111" stroke-width="0.55" paint-order="stroke">Connor Danielovitch</text>
<text x="1078.7" y="986.2" font-size="18" fill="#222" text-anchor="middle" textLength="32.2" lengthAdjust="spacing">4.07</text>
<text x="1210.8" y="986.2" font-size="18" fill="#222" text-anchor="middle" textLength="18.4" lengthAdjust="spacing">53</text>
<text x="1245.2" y="986.2" font-size="18" fill="#222" text-anchor="middle" textLength="18.4" lengthAdjust="spacing">53</text>
<text x="1280.1" y="986.2" font-size="18" fill="#222" text-anchor="middle" textLength="18.4" lengthAdjust="spacing">65</text>
<text x="1360.1" y="986.2" font-size="18" fill="#222" text-anchor="middle" textLength="27.6" lengthAdjust="spacing">176</text>
<text x="772.6" y="1017.1" font-size="18" fill="#111" textLength="106.9" lengthAdjust="spacing" stroke="#111" stroke-width="0.55" paint-order="stroke">Heather Urry</text>
<text x="1078.7" y="1017.1" font-size="18" fill="#222" text-anchor="middle" textLength="32.2" lengthAdjust="spacing">3.37</text>
<text x="1145.0" y="1017.1" font-size="18" fill="#222" text-anchor="middle" textLength="18.4" lengthAdjust="spacing">11</text>
<text x="1177.0" y="1017.1" font-size="18" fill="#222" text-anchor="middle" textLength="18.4" lengthAdjust="spacing">11</text>
<text x="1210.8" y="1017.1" font-size="18" fill="#222" text-anchor="middle" textLength="18.4" lengthAdjust="spacing">22</text>
<text x="1245.2" y="1017.1" font-size="18" fill="#222" text-anchor="middle" textLength="18.4" lengthAdjust="spacing">29</text>
<text x="1280.1" y="1017.1" font-size="18" fill="#222" text-anchor="middle" textLength="18.4" lengthAdjust="spacing">19</text>
<text x="1360.1" y="1017.1" font-size="18" fill="#222" text-anchor="middle" textLength="18.6" lengthAdjust="spacing">85</text>
<text x="772.6" y="1048.0" font-size="18" fill="#111" textLength="121.4" lengthAdjust="spacing" stroke="#111" stroke-width="0.55" paint-order="stroke">Kristos Westoll</text>
<text x="1078.7" y="1048.0" font-size="18" fill="#222" text-anchor="middle" textLength="32.2" lengthAdjust="spacing">3.23</text>
<text x="1145.0" y="1048.0" font-size="18" fill="#222" text-anchor="middle" textLength="18.4" lengthAdjust="spacing">26</text>
<text x="1177.0" y="1048.0" font-size="18" fill="#222" text-anchor="middle" textLength="18.4" lengthAdjust="spacing">36</text>
<text x="1210.8" y="1048.0" font-size="18" fill="#222" text-anchor="middle" textLength="18.4" lengthAdjust="spacing">21</text>
<text x="1245.2" y="1048.0" font-size="18" fill="#222" text-anchor="middle" textLength="18.4" lengthAdjust="spacing">45</text>
<text x="1280.1" y="1048.0" font-size="18" fill="#222" text-anchor="middle" textLength="18.4" lengthAdjust="spacing">41</text>
<text x="1360.1" y="1048.0" font-size="18" fill="#222" text-anchor="middle" textLength="27.6" lengthAdjust="spacing">164</text>
<text x="772.6" y="1078.8" font-size="18" fill="#111" textLength="129.3" lengthAdjust="spacing" stroke="#111" stroke-width="0.55" paint-order="stroke">Michele Whyatt</text>
<text x="1078.7" y="1078.8" font-size="18" fill="#222" text-anchor="middle" textLength="32.2" lengthAdjust="spacing">3.40</text>
<text x="1145.0" y="1078.8" font-size="18" fill="#222" text-anchor="middle" textLength="18.4" lengthAdjust="spacing">14</text>
<text x="1177.0" y="1078.8" font-size="18" fill="#222" text-anchor="middle">6</text>
<text x="1210.8" y="1078.8" font-size="18" fill="#222" text-anchor="middle" textLength="18.4" lengthAdjust="spacing">18</text>
<text x="1245.2" y="1078.8" font-size="18" fill="#222" text-anchor="middle" textLength="18.4" lengthAdjust="spacing">36</text>
<text x="1280.1" y="1078.8" font-size="18" fill="#222" text-anchor="middle" textLength="18.4" lengthAdjust="spacing">17</text>
<text x="1360.1" y="1078.8" font-size="18" fill="#222" text-anchor="middle" textLength="18.6" lengthAdjust="spacing">95</text>
<text x="772.6" y="1109.7" font-size="18" fill="#111" textLength="103.6" lengthAdjust="spacing" stroke="#111" stroke-width="0.55" paint-order="stroke">Nicola Wane</text>
<text x="1078.7" y="1109.7" font-size="18" fill="#222" text-anchor="middle" textLength="32.2" lengthAdjust="spacing">3.36</text>
<text x="1145.0" y="1109.7" font-size="18" fill="#222" text-anchor="middle" textLength="18.4" lengthAdjust="spacing">28</text>
<text x="1177.0" y="1109.7" font-size="18" fill="#222" text-anchor="middle" textLength="18.4" lengthAdjust="spacing">19</text>
<text x="1210.8" y="1109.7" font-size="18" fill="#222" text-anchor="middle" textLength="18.4" lengthAdjust="spacing">35</text>
<text x="1245.2" y="1109.7" font-size="18" fill="#222" text-anchor="middle" textLength="18.4" lengthAdjust="spacing">58</text>
<text x="1280.1" y="1109.7" font-size="18" fill="#222" text-anchor="middle" textLength="18.4" lengthAdjust="spacing">41</text>
<text x="1360.1" y="1109.7" font-size="18" fill="#222" text-anchor="middle" textLength="27.6" lengthAdjust="spacing">186</text>
<text x="772.6" y="1140.6" font-size="18" fill="#111" textLength="113.6" lengthAdjust="spacing" stroke="#111" stroke-width="0.55" paint-order="stroke">Sheela Cutten</text>
<text x="1078.7" y="1140.6" font-size="18" fill="#222" text-anchor="middle" textLength="32.2" lengthAdjust="spacing">3.65</text>
<text x="1145.0" y="1140.6" font-size="18" fill="#222" text-anchor="middle">1</text>
<text x="1177.0" y="1140.6" font-size="18" fill="#222" text-anchor="middle" textLength="18.4" lengthAdjust="spacing">27</text>
<text x="1210.8" y="1140.6" font-size="18" fill="#222" text-anchor="middle" textLength="18.4" lengthAdjust="spacing">46</text>
<text x="1245.2" y="1140.6" font-size="18" fill="#222" text-anchor="middle" textLength="18.4" lengthAdjust="spacing">75</text>
<text x="1280.1" y="1140.6" font-size="18" fill="#222" text-anchor="middle" textLength="18.4" lengthAdjust="spacing">38</text>
<text x="1360.1" y="1140.6" font-size="18" fill="#222" text-anchor="middle" textLength="27.6" lengthAdjust="spacing">177</text>
<clipPath id="mapclip"><rect x="1497" y="836" width="658" height="365"/></clipPath>
<g clip-path="url(#mapclip)"><g fill="#e8e8e8" fill-opacity="0.74" stroke="#9b9b9e" stroke-width="1.15" stroke-linejoin="round"><path d="M1595.9,1224.6 L1595.9,1200.7 L1597.6,1189.3 L1592.9,1189.9 L1588.2,1183.5 L1590.0,1170.5 L1595.3,1162.3 L1599.4,1142.3 L1596.5,1129.1 L1591.2,1108.8 L1598.8,1100.3 L1602.9,1101.2 L1610.6,1093.5 L1615.3,1093.5 L1621.1,1097.0 L1637.0,1095.3 L1657.6,1100.3 L1667.0,1098.5 L1683.5,1102.1 L1690.5,1100.6 L1693.5,1095.3 L1697.0,1065.9 L1695.8,1060.0 L1697.1,1064.4 L1692.8,1053.9 L1687.6,1046.0 L1680.7,1042.1 L1682.3,1034.4 L1679.1,1030.1 L1674.4,1033.3 L1670.7,1032.3 L1668.6,1026.5 L1655.4,1023.3 L1648.4,1015.4 L1653.3,1013.3 L1647.5,1012.2 L1645.9,1007.2 L1665.4,999.0 L1674.9,997.5 L1679.1,1003.6 L1691.3,1001.1 L1688.1,984.3 L1684.4,989.6 L1680.2,990.6 L1677.0,989.0 L1687.6,981.4 L1697.6,981.6 L1699.7,988.3 L1711.8,988.3 L1714.5,981.6 L1727.6,976.9 L1732.9,971.6 L1735.5,955.8 L1745.6,953.2 L1756.1,947.9 L1735.3,956.4 L1745.9,952.9 L1755.9,945.2 L1770.0,929.9 L1775.9,908.8 L1781.7,904.1 L1796.4,900.6 L1815.8,895.5 L1821.1,898.8 L1822.3,893.5 L1825.2,892.9 L1820.5,875.9 L1821.1,869.4 L1821.1,863.5 L1817.0,858.2 L1817.6,835.9 L1817.6,812.4 L1857.6,812.4 L1857.6,835.9 L1851.7,847.6 L1854.6,851.2 L1852.9,854.1 L1856.4,861.2 L1855.2,862.3 L1857.0,865.3 L1853.5,874.7 L1845.8,876.4 L1851.7,880.8 L1860.5,881.4 L1861.7,884.1 L1853.5,892.3 L1869.9,887.6 L1886.4,873.3 L1895.2,878.8 L1898.7,893.5 L1922.8,884.1 L1929.9,877.6 L1939.3,874.1 L1951.3,872.3 L1959.2,878.7 L1955.3,879.3 L1958.6,883.5 L1967.1,882.3 L1972.0,869.5 L1979.9,870.5 L1985.3,864.1 L1986.6,846.4 L1984.1,836.1 L1984.1,811.8 L2185.4,811.8 L2185.4,1085.4 L2155.0,1085.4 L2150.8,1086.0 L2146.5,1081.8 L2147.7,1073.3 L2141.6,1069.4 L2135.6,1068.4 L2133.4,1066.0 L2145.9,1056.2 L2121.6,1050.7 L2121.6,1044.7 L2114.9,1045.9 L2107.6,1057.4 L2100.3,1062.9 L2099.7,1070.8 L2098.5,1078.1 L2091.8,1079.3 L2087.5,1085.4 L2085.7,1096.4 L2085.9,1097.1 L2083.2,1104.5 L2079.0,1104.0 L2076.9,1115.5 L2073.7,1118.7 L2076.9,1127.1 L2079.5,1128.2 L2081.6,1134.0 L2089.0,1138.2 L2115.3,1141.6 L2145.9,1125.0 L2155.0,1125.2 L2182.7,1125.2 L2182.7,1232.4 L2064.3,1232.4 L2064.3,1200.8 L2065.9,1195.6 L2053.7,1189.3 L2051.1,1192.4 L2050.1,1186.6 L2044.3,1186.1 L2055.3,1186.6 L2055.8,1182.4 L2061.6,1181.4 L2059.5,1178.2 L2050.1,1177.1 L2049.0,1174.0 L2055.3,1170.8 L2064.3,1168.5 L2051.1,1170.3 L2052.2,1167.1 L2049.0,1164.0 L2050.6,1160.3 L2045.8,1158.7 L2051.1,1156.6 L2061.6,1151.1 L2051.6,1151.3 L2052.2,1148.7 L2038.5,1145.6 L2032.7,1152.4 L2031.1,1146.1 L2022.7,1149.2 L2031.1,1159.2 L2025.3,1157.7 L2020.6,1156.6 L2023.7,1163.5 L2015.3,1156.6 L2021.1,1163.5 L2007.9,1153.5 L2012.1,1158.7 L2015.3,1165.0 L2015.3,1175.6 L2021.6,1175.0 L2028.5,1168.7 L2025.3,1178.2 L2018.5,1177.7 L2027.4,1185.0 L2029.0,1190.3 L2039.5,1200.8 L2039.5,1232.4 L1982.7,1232.4 L1982.7,1200.8 L1980.5,1199.3 L1981.6,1195.6 L1976.3,1191.4 L1979.5,1183.5 L1979.5,1175.6 L1975.8,1176.1 L1964.2,1163.5 L1976.3,1166.1 L1972.7,1165.6 L1962.6,1155.0 L1966.3,1131.9 L1964.8,1130.8 L1952.6,1119.8 L1940.5,1115.0 L1930.0,1112.9 L1952.9,1118.7 L1940.8,1111.4 L1925.0,1113.5 L1929.7,1112.4 L1926.1,1105.6 L1919.2,1109.8 L1917.1,1107.7 L1924.5,1104.0 L1913.9,1099.8 L1908.0,1092.0 L1900.0,1086.0 L1893.0,1082.0 L1889.0,1088.0 L1892.0,1098.0 L1900.0,1112.0 L1911.8,1126.7 L1923.9,1126.7 L1925.0,1131.9 L1922.4,1135.1 L1948.2,1148.8 L1955.0,1159.3 L1952.4,1166.2 L1947.1,1164.6 L1945.0,1159.3 L1934.5,1155.6 L1929.7,1164.6 L1937.1,1170.9 L1936.1,1181.5 L1930.8,1182.5 L1930.3,1188.3 L1922.9,1197.8 L1915.0,1195.7 L1912.9,1200.8 L1912.9,1222.6 L1874.9,1222.6 L1874.9,1200.8 L1868.6,1194.3 L1878.1,1190.4 L1881.3,1192.0 L1884.9,1189.9 L1892.3,1193.3 L1909.2,1190.1 L1897.6,1184.8 L1907.1,1183.6 L1910.8,1179.1 L1912.9,1180.9 L1909.7,1184.6 L1912.4,1188.8 L1916.6,1187.8 L1917.1,1182.5 L1921.3,1179.9 L1915.5,1166.7 L1905.5,1158.3 L1903.9,1153.5 L1898.1,1154.3 L1891.3,1149.8 L1891.3,1144.6 L1871.8,1120.3 L1856.0,1101.4 L1843.8,1093.8 L1827.0,1085.3 L1818.0,1094.2 L1812.2,1095.0 L1796.9,1110.6 L1765.3,1101.9 L1755.3,1109.8 L1756.3,1119.3 L1756.9,1128.8 L1740.0,1141.9 L1742.3,1141.1 L1725.8,1147.0 L1726.4,1149.4 L1711.1,1170.5 L1712.9,1176.4 L1718.7,1182.5 L1709.9,1188.2 L1705.8,1194.0 L1704.0,1200.7 L1704.0,1224.6 Z"/><path d="M1621.1,814.2 L1621.1,836.5 L1623.3,839.3 L1629.6,836.5 L1631.9,843.7 L1627.5,854.8 L1633.8,860.6 L1640.1,874.3 L1649.6,893.8 L1651.7,892.2 L1670.2,889.0 L1672.3,897.5 L1671.8,903.3 L1661.7,905.9 L1654.9,903.3 L1650.9,908.2 L1655.4,913.3 L1649.6,920.7 L1654.9,921.2 L1658.6,919.1 L1658.6,927.5 L1642.2,937.5 L1642.8,941.8 L1649.6,946.5 L1655.4,944.4 L1657.0,947.0 L1662.8,946.5 L1673.3,950.2 L1658.6,951.2 L1652.8,956.0 L1652.3,961.1 L1628.5,980.4 L1638.0,978.2 L1646.5,980.6 L1653.8,973.5 L1666.5,974.8 L1671.8,965.8 L1677.0,964.5 L1682.3,967.4 L1691.8,965.3 L1697.1,967.6 L1710.8,962.5 L1716.6,964.5 L1727.6,960.0 L1727.6,957.4 L1732.9,954.8 L1732.9,947.2 L1726.1,947.2 L1734.5,935.4 L1738.7,925.4 L1738.2,919.6 L1729.7,913.3 L1719.7,912.8 L1715.0,890.1 L1707.6,879.6 L1701.3,876.1 L1697.1,861.6 L1691.8,814.2 Z"/><path d="M1606.4,861.4 L1617.5,860.4 L1626.6,864.3 L1633.8,860.8 L1638.0,872.2 L1641.7,883.2 L1641.2,888.0 L1634.9,892.2 L1635.4,897.5 L1637.5,914.3 L1635.1,922.8 L1632.7,933.3 L1619.0,936.5 L1610.6,941.2 L1601.1,947.0 L1592.2,949.5 L1579.0,946.5 L1581.1,941.8 L1576.3,938.1 L1578.5,935.4 L1573.7,934.2 L1586.9,925.4 L1583.2,924.1 L1589.8,917.0 L1579.5,908.5 L1577.7,902.7 L1581.6,897.5 L1577.9,893.3 L1582.1,883.6 L1600.1,884.8 L1603.2,881.7 L1597.4,878.7 Z"/><path d="M1626.6,864.3 L1617.5,870.6 L1611.7,876.9 L1608.5,882.2 L1610.6,887.5 L1618.0,890.1 L1622.7,884.3 L1626.6,891.1 L1634.9,892.2" fill="none"/><path d="M1877.0,812.4 L1877.0,835.9 L1874.0,842.9 L1880.5,857.6 L1878.2,862.3 L1881.1,867.6 L1897.0,866.5 L1907.6,847.6 L1917.5,850.6 L1928.7,845.3 L1932.2,835.9 L1932.2,812.4 Z"/><path d="M1858.8,846.5 L1866.4,847.0 L1874.0,842.9 L1880.5,857.6 L1872.9,861.2 L1874.6,864.1 L1871.1,866.5 L1877.0,871.2 L1872.9,871.7 L1869.9,881.7 L1855.2,875.3 L1856.4,870.6 L1865.2,866.5 L1858.2,868.8 L1856.4,865.3 L1857.6,861.2 L1856.4,851.2 Z"/><path d="M1905.2,862.3 L1910.5,867.0 L1909.3,872.9 L1902.6,869.4 Z"/><path d="M1741.7,1168.2 L1752.8,1160.5 L1761.7,1164.1 L1752.3,1177.6 Z"/><path d="M1761.1,1159.9 L1767.5,1158.2 L1771.7,1162.9 L1768.7,1166.4 L1762.2,1164.7 Z"/><path d="M1727.2,1177.9 L1733.4,1174.3 L1736.7,1177.0 L1734.6,1181.7 L1735.4,1185.6 L1729.9,1185.2 Z"/><path d="M1833.3,1108.5 L1837.5,1108.5 L1838.6,1125.6 L1835.4,1137.2 L1833.3,1138.8 L1826.4,1134.6 L1823.3,1127.7 L1822.2,1120.3 L1825.4,1115.6 L1833.3,1112.4 Z"/><path d="M1835.4,1137.7 L1841.7,1147.7 L1842.8,1152.5 L1840.1,1159.3 L1839.1,1177.8 L1832.8,1176.7 L1828.5,1181.5 L1821.7,1180.4 L1818.5,1175.1 L1821.7,1173.0 L1821.2,1153.5 L1817.5,1151.4 L1820.6,1140.6 L1822.8,1141.6 L1821.7,1144.6 L1823.8,1145.6 L1833.3,1139.3 Z"/><circle cx="1884.4" cy="1183" r="3.6"/><path d="M2048.5,1174.5 L2052.7,1171.9 L2058.0,1170.8 L2060.1,1177.1 L2050.1,1177.5 Z"/><path d="M2012.1,1196.6 L2017.4,1195.6 L2023.2,1201.9 L2018.5,1201.9 Z"/><path d="M2025.3,1192.9 L2029.5,1201.9 L2026.4,1201.9 Z"/><path d="M2034.3,1191.9 L2040.6,1201.9 L2036.4,1201.9 Z"/><path d="M2044.3,1168.2 L2049.0,1166.1 L2051.1,1169.2 L2045.8,1170.3 Z"/><path d="M1917.1,1107.7 L1924.5,1104.0 L1926.1,1105.6 L1919.2,1109.8 Z"/><path d="M1690.5,1100.6 L1691.1,1102.9 L1695.2,1104.7 L1695.2,1108.2 L1712.9,1114.7 L1722.3,1114.7 L1722.9,1111.7 L1732.8,1115.3 L1731.7,1118.8 L1738.7,1119.4 L1755.8,1119.4" fill="none"/><path d="M1732.3,1115.5 L1735.8,1116.4 L1737.6,1118.4 L1732.3,1119.0 L1732.3,1115.5" fill="none"/><path d="M1617.0,1200.7 L1624.1,1190.5 L1621.1,1191.1 L1618.2,1187.0 L1623.5,1177.6 L1615.3,1167.0 L1622.3,1166.8 L1624.7,1144.7 L1633.5,1134.3 L1629.4,1132.9 L1628.0,1127.8 L1608.8,1130.2 L1607.6,1124.7 L1596.5,1129.1" fill="none"/><path d="M1745.9,952.9 L1749.4,961.7 L1753.5,961.1 L1757.0,966.4 L1761.2,967.0 L1762.3,970.5 L1767.0,971.7 L1767.6,975.0" fill="none"/><path d="M1745.9,955.0 L1749.4,961.5 L1754.1,960.9 L1757.6,966.8 L1761.7,970.3 L1765.3,971.5 L1768.2,976.8 L1771.2,977.3 L1775.9,975.0 L1777.0,980.3 L1782.3,985.0 L1785.9,986.7 L1796.4,987.3" fill="none"/><path d="M1755.9,945.2 L1757.6,951.1 L1764.1,952.3 L1771.2,947.0 L1778.2,947.0 L1781.7,951.1 L1791.1,954.6 L1788.2,961.1 L1791.1,961.1" fill="none"/><path d="M1796.4,900.6 L1807.0,907.6 L1806.4,917.0 L1805.3,922.3 L1800.6,922.9 L1801.1,927.0 L1805.3,927.6 L1801.7,936.4 L1791.7,939.9 L1790.0,941.1 L1793.5,948.8 L1794.1,952.3 L1791.1,954.6" fill="none"/><path d="M1787.0,960.9 L1790.6,955.6 L1792.3,961.5 L1787.0,960.9" fill="none"/><path d="M1792.3,961.5 L1795.3,969.1 L1792.9,973.8 L1798.2,980.9 L1796.4,987.3" fill="none"/><path d="M1792.9,973.8 L1788.2,978.5 L1788.8,986.7" fill="none"/><path d="M1796.4,987.3 L1800.6,993.2 L1810.0,993.8 L1820.0,997.9 L1814.7,1005.6 L1811.7,1025.2" fill="none"/><path d="M1821.1,869.4 L1827.6,872.9 L1834.1,875.3 L1838.8,873.7 L1845.8,876.4" fill="none"/><path d="M1811.7,1025.2 L1823.5,1025.0 L1825.2,1020.8 L1837.6,1025.3 L1837.6,1033.8 L1843.5,1037.9 L1848.2,1036.1 L1849.3,1043.2 L1844.6,1044.4 L1843.5,1050.8 L1840.5,1048.5 L1836.4,1048.5 L1834.1,1045.5 L1829.9,1058.5 L1823.5,1046.7 L1815.8,1056.1 L1804.7,1056.4 L1800.6,1046.7 L1794.1,1049.1 L1791.1,1050.8 L1791.7,1046.1 L1803.5,1026.7 L1811.7,1025.2" fill="none"/><path d="M1837.6,1025.3 L1845.2,1030.3 L1848.8,1025.0 L1860.5,1027.9 L1871.1,1025.6" fill="none"/><path d="M1848.2,1036.1 L1857.6,1039.7 L1860.5,1036.1 L1871.1,1037.3" fill="none"/><path d="M1804.7,1056.4 L1801.7,1059.7 L1807.0,1065.5 L1805.3,1069.1 L1799.4,1071.4 L1805.3,1079.1 L1802.9,1082.0 L1805.3,1086.7 L1812.9,1090.2 L1811.1,1095.5" fill="none"/><path d="M1898.7,893.5 L1901.1,908.8 L1897.0,917.6 L1899.3,921.7" fill="none"/><path d="M1874.6,981.5 L1879.3,990.3 L1893.4,1000.9 L1906.4,1000.9 L1908.7,997.9 L1918.1,1000.9 L1932.2,1004.4" fill="none"/><path d="M1932.8,1004.4 L1932.2,1010.3 L1935.8,1017.9 L1935.2,1022.6 L1929.9,1022.6" fill="none"/><path d="M1967.1,882.3 L1990.8,885.9 L2009.1,884.1 L2010.3,875.6 L2006.6,868.9 L1998.1,867.7 L1989.6,864.7 L1985.3,864.1" fill="none"/><path d="M1986.6,846.4 L2000.5,837.9 L2013.9,840.3 L2020.6,839.1 L2026.7,842.2 L2035.8,837.9 L2038.9,842.8 L2046.8,845.2 L2058.9,854.9" fill="none"/><path d="M2058.9,854.9 L2056.5,862.2 L2061.4,864.1 L2047.4,874.4 L2044.3,885.9 L2029.7,895.1 L2018.8,894.5 L2016.4,889.0 L2009.1,884.1" fill="none"/><path d="M2058.9,854.9 L2065.0,851.9 L2069.9,852.5 L2079.6,844.6 L2078.4,836.1" fill="none"/><path d="M2079.6,844.6 L2089.3,846.4 L2096.6,854.3 L2101.5,850.7 L2106.4,850.7 L2113.1,856.8 L2114.9,856.2 L2115.5,870.7 L2112.4,875.0 L2118.5,878.7 L2116.7,882.3 L2119.7,888.4 L2127.0,892.0 L2125.8,896.9 L2130.1,896.9 L2138.6,905.4 L2129.5,913.3 L2123.4,910.9 L2118.5,913.9 L2123.4,920.0 L2123.4,929.7 L2125.8,933.4" fill="none"/><path d="M2125.8,933.4 L2115.5,934.6 L2110.0,941.9 L2109.4,951.6 L2105.1,946.8 L2094.2,948.6 L2091.2,943.7 L2086.3,948.0 L2079.6,943.1 L2073.5,944.9 L2066.2,940.7 L2041.3,936.8 L2029.7,938.5 L2024.9,944.3 L2019.4,944.6" fill="none"/><path d="M2019.4,944.6 L2020.0,934.6 L2014.5,931.0 L2017.0,926.1 L2024.3,920.6 L2023.0,910.3 L2018.8,894.5" fill="none"/><path d="M2125.8,933.4 L2129.5,935.2 L2133.7,929.1 L2139.8,931.0 L2144.1,928.3 L2152.6,928.5 L2155.0,932.8" fill="none"/><path d="M2019.4,944.6 L2020.6,950.4 L2026.7,960.8 L2024.3,961.4 L2026.1,965.0 L2024.3,968.0 L2015.1,976.0 L2012.7,980.0" fill="none"/><path d="M2026.1,965.0 L2024.3,968.6 L2015.1,975.3 L2007.8,986.9 L2010.3,997.2 L2006.0,996.0 L1990.2,987.9 L1985.3,991.2 L1978.7,989.3 L1970.1,992.4" fill="none"/><path d="M2006.0,996.0 L2000.5,1009.4 L1996.3,1010.0 L1990.8,1005.7 L1979.3,1007.0 L1971.4,1014.3 L1968.9,1011.8 L1957.4,1016.1 L1956.2,1021.6 L1943.4,1021.9 L1935.5,1016.7 L1931.8,1006.4" fill="none"/><path d="M1935.5,1016.7 L1934.9,1022.2 L1930.0,1022.8" fill="none"/><path d="M2000.5,1009.4 L2009.7,1016.7 L2013.9,1013.7 L2022.4,1017.9 L2032.2,1017.5 L2036.4,1022.2 L2040.7,1018.5 L2052.8,1017.1 L2059.5,1011.8" fill="none"/><path d="M2059.5,1011.8 L2060.8,1008.2 L2071.1,1007.3 L2083.3,1014.3 L2087.5,1014.9 L2092.4,1020.3 L2091.8,1025.8 L2096.0,1028.9 L2097.2,1037.4 L2102.1,1039.2 L2103.3,1047.1 L2097.8,1047.5 L2093.0,1044.7 L2088.7,1046.5 L2088.1,1054.4 L2084.5,1055.6 L2081.4,1064.1 L2079.6,1063.5 L2077.8,1052.6 L2079.0,1041.0 L2077.2,1036.8 L2059.5,1011.8" fill="none"/><path d="M2079.6,1064.7 L2086.3,1069.0 L2095.4,1065.3 L2099.7,1070.2" fill="none"/><path d="M2009.7,1016.7 L1999.3,1025.8 L1987.2,1049.5 L1976.2,1052.6 L1968.3,1051.6 L1958.6,1056.8 L1952.5,1059.3 L1942.2,1057.4 L1932.4,1049.5" fill="none"/><path d="M1958.6,1056.8 L1959.8,1066.0 L1965.9,1069.6 L1961.0,1070.8 L1960.4,1075.1 L1956.2,1072.0 L1947.0,1070.8 L1945.2,1072.6 L1933.6,1069.0 L1930.0,1069.0" fill="none"/><path d="M1960.4,1075.1 L1963.4,1078.7 L1962.2,1086.6 L1967.1,1090.9 L1963.4,1092.7 L1966.5,1097.6 L1961.0,1099.4" fill="none"/><path d="M1976.2,1052.6 L1983.5,1061.1 L1984.7,1065.3 L1992.6,1070.8 L1990.8,1076.3 L2000.5,1082.4 L2004.8,1078.7 L2008.5,1081.8 L2004.8,1083.6 L2008.5,1087.8 L2012.7,1090.3 L2010.3,1095.1 L2026.1,1097.0 L2041.9,1097.6 L2051.6,1091.5 L2064.4,1088.8 L2085.7,1096.1" fill="none"/><path d="M2003.7,1121.3 L2004.8,1112.9 L2011.6,1107.1 L2007.9,1102.9 L2005.8,1100.8 L2004.2,1094.5 L2006.4,1088.7 L2006.9,1085.0" fill="none"/><path d="M2076.9,1127.1 L2070.6,1128.2 L2064.3,1125.5 L2055.8,1130.8 L2052.2,1132.9 L2052.7,1138.2 L2041.6,1139.8 L2032.7,1136.6 L2027.9,1134.5 L2011.1,1138.2 L2010.6,1127.7 L2003.7,1121.3 L1993.2,1122.4 L1987.4,1124.0 L1981.6,1128.7 L1979.5,1135.5 L1980.5,1140.8 L1984.8,1146.1 L1992.1,1145.0 L2011.1,1138.2" fill="none"/><path d="M2055.8,1130.8 L2058.0,1136.6 L2054.8,1139.8 L2055.8,1142.4 L2052.2,1148.7" fill="none"/><path d="M1981.6,1128.7 L1975.3,1117.6 L1973.7,1115.5 L1978.4,1111.9 L1982.7,1105.0 L1988.4,1107.6 L1991.1,1114.0 L1996.3,1115.0 L1993.2,1122.4" fill="none"/><path d="M1952.6,1116.6 L1953.7,1107.6 L1957.9,1103.4 L1960.5,1100.3 L1978.4,1111.9" fill="none"/><path d="M1973.7,1115.5 L1969.5,1117.1 L1968.8,1115.0 L1963.7,1123.4 L1964.2,1127.1 L1964.8,1130.8" fill="none"/><path d="M1962.1,1085.0 L1967.4,1090.8 L1963.7,1092.4 L1966.3,1096.1 L1964.2,1098.7 L1960.5,1100.3" fill="none"/><path d="M1976.3,1166.1 L1979.5,1160.3 L1986.3,1150.8 L1984.8,1146.1" fill="none"/><path d="M1930.0,1092.9 L1942.6,1110.3 L1941.6,1111.3 L1952.6,1116.6" fill="none"/><path d="M1917.5,1070.1 L1925.4,1072.8 L1927.5,1069.1 L1932.7,1068.5 L1944.3,1072.2 L1947.5,1070.7 L1955.4,1071.7 L1959.1,1075.9 L1961.2,1073.3 L1963.8,1075.4" fill="none"/><path d="M1917.5,1070.1 L1918.0,1077.5 L1924.3,1087.0 L1940.1,1106.5 L1942.8,1110.7 L1941.2,1111.2 L1952.3,1118.1" fill="none"/><path d="M1932.7,1049.6 L1935.9,1053.3 L1943.3,1057.5 L1952.8,1059.6 L1958.0,1056.6" fill="none"/><path d="M1932.7,1005.8 L1931.7,1009.5 L1935.9,1015.8 L1935.4,1022.2 L1932.2,1022.2" fill="none"/></g>
<path d="M1669.20,827.20 A35,35 0 0 1 1671.76,897.11 L1670.95,886.04 A23.9,23.9 0 0 0 1669.20,838.30 Z" fill="#7ab0cc"/><path d="M1671.76,897.11 A35,35 0 0 1 1641.10,883.07 L1650.01,876.45 A23.9,23.9 0 0 0 1670.95,886.04 Z" fill="#8bbbd3"/><path d="M1641.10,883.07 A35,35 0 0 1 1635.51,852.73 L1646.19,855.73 A23.9,23.9 0 0 0 1650.01,876.45 Z" fill="#9cc6da"/><path d="M1635.51,852.73 A35,35 0 0 1 1648.63,833.88 L1655.15,842.86 A23.9,23.9 0 0 0 1646.19,855.73 Z" fill="#add0e1"/><path d="M1648.63,833.88 A35,35 0 0 1 1659.49,828.57 L1662.57,839.24 A23.9,23.9 0 0 0 1655.15,842.86 Z" fill="#c0dde9"/><path d="M1659.49,828.57 A35,35 0 0 1 1669.20,827.20 L1669.20,838.30 A23.9,23.9 0 0 0 1662.57,839.24 Z" fill="#d3e8f1"/><line x1="1669.20" y1="838.00" x2="1669.20" y2="826.90" stroke="#f6f9fb" stroke-width="1.7"/><line x1="1670.97" y1="886.34" x2="1671.79" y2="897.41" stroke="#f6f9fb" stroke-width="1.7"/><line x1="1649.77" y1="876.63" x2="1640.86" y2="883.25" stroke="#f6f9fb" stroke-width="1.7"/><line x1="1645.90" y1="855.65" x2="1635.22" y2="852.65" stroke="#f6f9fb" stroke-width="1.7"/><line x1="1654.98" y1="842.62" x2="1648.45" y2="833.64" stroke="#f6f9fb" stroke-width="1.7"/><line x1="1662.49" y1="838.95" x2="1659.41" y2="828.28" stroke="#f6f9fb" stroke-width="1.7"/><circle cx="1669.2" cy="862.2" r="24.4" fill="#7ab0cc"/><circle cx="1669.2" cy="862.2" r="24.15" fill="none" stroke="#ffffff" stroke-opacity="0.6" stroke-width="0.75"/>
<text x="1669.2" y="867.4" font-size="14.5" fill="#fff" text-anchor="middle" textLength="24.3" lengthAdjust="spacing">283</text>
<path d="M1609.70,893.80 A19.2,19.2 0 0 1 1613.63,931.79 L1612.32,925.53 A12.8,12.8 0 0 0 1609.70,900.20 Z" fill="#7ab0cc"/><path d="M1613.63,931.79 A19.2,19.2 0 0 1 1596.51,926.95 L1600.91,922.30 A12.8,12.8 0 0 0 1612.32,925.53 Z" fill="#8bbbd3"/><path d="M1596.51,926.95 A19.2,19.2 0 0 1 1590.60,911.06 L1596.97,911.71 A12.8,12.8 0 0 0 1600.91,922.30 Z" fill="#9cc6da"/><path d="M1590.60,911.06 A19.2,19.2 0 0 1 1594.74,900.97 L1599.72,904.98 A12.8,12.8 0 0 0 1596.97,911.71 Z" fill="#add0e1"/><path d="M1594.74,900.97 A19.2,19.2 0 0 1 1602.82,895.08 L1605.11,901.05 A12.8,12.8 0 0 0 1599.72,904.98 Z" fill="#c0dde9"/><path d="M1602.82,895.08 A19.2,19.2 0 0 1 1609.70,893.80 L1609.70,900.20 A12.8,12.8 0 0 0 1605.11,901.05 Z" fill="#d3e8f1"/><line x1="1609.70" y1="899.90" x2="1609.70" y2="893.50" stroke="#f6f9fb" stroke-width="1.25"/><line x1="1612.38" y1="925.82" x2="1613.69" y2="932.09" stroke="#f6f9fb" stroke-width="1.25"/><line x1="1600.70" y1="922.52" x2="1596.30" y2="927.17" stroke="#f6f9fb" stroke-width="1.25"/><line x1="1596.67" y1="911.68" x2="1590.30" y2="911.03" stroke="#f6f9fb" stroke-width="1.25"/><line x1="1599.49" y1="904.79" x2="1594.50" y2="900.78" stroke="#f6f9fb" stroke-width="1.25"/><line x1="1605.01" y1="900.77" x2="1602.71" y2="894.80" stroke="#f6f9fb" stroke-width="1.25"/><circle cx="1609.7" cy="913" r="13.3" fill="#7ab0cc"/><circle cx="1609.7" cy="913" r="13.05" fill="none" stroke="#ffffff" stroke-opacity="0.42" stroke-width="0.75"/>
<text x="1609.7" y="916.0" font-size="8.3" fill="#fff" text-anchor="middle" textLength="13.6" lengthAdjust="spacing">148</text>
<path d="M1744.00,979.90 A20.2,20.2 0 1 1 1739.32,1019.75 L1740.99,1012.75 A13.0,13.0 0 1 0 1744.00,987.10 Z" fill="#7ab0cc"/><path d="M1739.32,1019.75 A20.2,20.2 0 0 1 1725.71,1008.67 L1732.23,1005.61 A13.0,13.0 0 0 0 1740.99,1012.75 Z" fill="#8bbbd3"/><path d="M1725.71,1008.67 A20.2,20.2 0 0 1 1724.76,993.96 L1731.62,996.15 A13.0,13.0 0 0 0 1732.23,1005.61 Z" fill="#9cc6da"/><path d="M1724.76,993.96 A20.2,20.2 0 0 1 1732.41,983.55 L1736.54,989.45 A13.0,13.0 0 0 0 1731.62,996.15 Z" fill="#add0e1"/><path d="M1732.41,983.55 A20.2,20.2 0 0 1 1738.23,980.74 L1740.29,987.64 A13.0,13.0 0 0 0 1736.54,989.45 Z" fill="#c0dde9"/><path d="M1738.23,980.74 A20.2,20.2 0 0 1 1744.00,979.90 L1744.00,987.10 A13.0,13.0 0 0 0 1740.29,987.64 Z" fill="#d3e8f1"/><line x1="1744.00" y1="986.80" x2="1744.00" y2="979.60" stroke="#f6f9fb" stroke-width="1.25"/><line x1="1740.92" y1="1013.04" x2="1739.25" y2="1020.04" stroke="#f6f9fb" stroke-width="1.25"/><line x1="1731.96" y1="1005.74" x2="1725.44" y2="1008.80" stroke="#f6f9fb" stroke-width="1.25"/><line x1="1731.33" y1="996.06" x2="1724.47" y2="993.87" stroke="#f6f9fb" stroke-width="1.25"/><line x1="1736.37" y1="989.21" x2="1732.24" y2="983.31" stroke="#f6f9fb" stroke-width="1.25"/><line x1="1740.20" y1="987.35" x2="1738.14" y2="980.45" stroke="#f6f9fb" stroke-width="1.25"/><circle cx="1744.0" cy="1000.1" r="13.5" fill="#7ab0cc"/><circle cx="1744.0" cy="1000.1" r="13.25" fill="none" stroke="#ffffff" stroke-opacity="0.42" stroke-width="0.75"/>
<text x="1744.0" y="1003.2" font-size="8.6" fill="#fff" text-anchor="middle" textLength="14.3" lengthAdjust="spacing">158</text>
<path d="M1848.70,915.80 A37.7,37.7 0 1 1 1844.89,991.01 L1846.12,978.87 A25.5,25.5 0 1 0 1848.70,928.00 Z" fill="#7ab0cc"/><path d="M1844.89,991.01 A37.7,37.7 0 0 1 1815.29,970.97 L1826.10,965.31 A25.5,25.5 0 0 0 1846.12,978.87 Z" fill="#8bbbd3"/><path d="M1815.29,970.97 A37.7,37.7 0 0 1 1812.12,944.38 L1823.96,947.33 A25.5,25.5 0 0 0 1826.10,965.31 Z" fill="#9cc6da"/><path d="M1812.12,944.38 A37.7,37.7 0 0 1 1827.35,922.43 L1834.26,932.48 A25.5,25.5 0 0 0 1823.96,947.33 Z" fill="#add0e1"/><path d="M1827.35,922.43 A37.7,37.7 0 0 1 1841.70,916.46 L1843.97,928.44 A25.5,25.5 0 0 0 1834.26,932.48 Z" fill="#c0dde9"/><path d="M1841.70,916.46 A37.7,37.7 0 0 1 1848.70,915.80 L1848.70,928.00 A25.5,25.5 0 0 0 1843.97,928.44 Z" fill="#d3e8f1"/><line x1="1848.70" y1="927.70" x2="1848.70" y2="915.50" stroke="#f6f9fb" stroke-width="1.7"/><line x1="1846.09" y1="979.17" x2="1844.86" y2="991.31" stroke="#f6f9fb" stroke-width="1.7"/><line x1="1825.84" y1="965.45" x2="1815.02" y2="971.11" stroke="#f6f9fb" stroke-width="1.7"/><line x1="1823.67" y1="947.26" x2="1811.83" y2="944.31" stroke="#f6f9fb" stroke-width="1.7"/><line x1="1834.09" y1="932.24" x2="1827.18" y2="922.18" stroke="#f6f9fb" stroke-width="1.7"/><line x1="1843.91" y1="928.15" x2="1841.64" y2="916.16" stroke="#f6f9fb" stroke-width="1.7"/><circle cx="1848.7" cy="953.5" r="26" fill="#7ab0cc"/><circle cx="1848.7" cy="953.5" r="25.75" fill="none" stroke="#ffffff" stroke-opacity="0.6" stroke-width="0.75"/>
<text x="1848.7" y="959.3" font-size="16" fill="#fff" text-anchor="middle" textLength="26.6" lengthAdjust="spacing">306</text>
<path d="M1937.80,902.00 A51.1,51.1 0 0 1 1938.42,1004.20 L1938.22,987.60 A34.5,34.5 0 0 0 1937.80,918.60 Z" fill="#7ab0cc"/><path d="M1938.42,1004.20 A51.1,51.1 0 0 1 1893.32,978.26 L1907.77,970.09 A34.5,34.5 0 0 0 1938.22,987.60 Z" fill="#8bbbd3"/><path d="M1893.32,978.26 A51.1,51.1 0 0 1 1889.40,936.72 L1905.12,942.04 A34.5,34.5 0 0 0 1907.77,970.09 Z" fill="#9cc6da"/><path d="M1889.40,936.72 A51.1,51.1 0 0 1 1905.71,913.33 L1916.14,926.25 A34.5,34.5 0 0 0 1905.12,942.04 Z" fill="#add0e1"/><path d="M1905.71,913.33 A51.1,51.1 0 0 1 1926.39,903.29 L1930.10,919.47 A34.5,34.5 0 0 0 1916.14,926.25 Z" fill="#c0dde9"/><path d="M1926.39,903.29 A51.1,51.1 0 0 1 1937.80,902.00 L1937.80,918.60 A34.5,34.5 0 0 0 1930.10,919.47 Z" fill="#d3e8f1"/><line x1="1937.80" y1="918.30" x2="1937.80" y2="901.70" stroke="#f6f9fb" stroke-width="1.7"/><line x1="1938.23" y1="987.90" x2="1938.43" y2="1004.50" stroke="#f6f9fb" stroke-width="1.7"/><line x1="1907.51" y1="970.24" x2="1893.06" y2="978.41" stroke="#f6f9fb" stroke-width="1.7"/><line x1="1904.84" y1="941.94" x2="1889.11" y2="936.62" stroke="#f6f9fb" stroke-width="1.7"/><line x1="1915.95" y1="926.02" x2="1905.52" y2="913.10" stroke="#f6f9fb" stroke-width="1.7"/><line x1="1930.03" y1="919.18" x2="1926.32" y2="903.00" stroke="#f6f9fb" stroke-width="1.7"/><circle cx="1937.8" cy="953.1" r="35" fill="#7ab0cc"/><circle cx="1937.8" cy="953.1" r="34.75" fill="none" stroke="#ffffff" stroke-opacity="0.6" stroke-width="0.75"/>
<text x="1937.8" y="961.0" font-size="22" fill="#fff" text-anchor="middle" textLength="34.8" lengthAdjust="spacing">421</text>
<path d="M1897.30,1000.00 A37.4,37.4 0 0 1 1901.92,1074.51 L1900.38,1062.11 A24.9,24.9 0 0 0 1897.30,1012.50 Z" fill="#7ab0cc"/><path d="M1901.92,1074.51 A37.4,37.4 0 0 1 1866.55,1058.69 L1876.83,1051.58 A24.9,24.9 0 0 0 1900.38,1062.11 Z" fill="#8bbbd3"/><path d="M1866.55,1058.69 A37.4,37.4 0 0 1 1860.72,1029.62 L1872.94,1032.22 A24.9,24.9 0 0 0 1876.83,1051.58 Z" fill="#9cc6da"/><path d="M1860.72,1029.62 A37.4,37.4 0 0 1 1873.51,1008.54 L1881.46,1018.19 A24.9,24.9 0 0 0 1872.94,1032.22 Z" fill="#add0e1"/><path d="M1873.51,1008.54 A37.4,37.4 0 0 1 1889.59,1000.80 L1892.17,1013.04 A24.9,24.9 0 0 0 1881.46,1018.19 Z" fill="#c0dde9"/><path d="M1889.59,1000.80 A37.4,37.4 0 0 1 1897.30,1000.00 L1897.30,1012.50 A24.9,24.9 0 0 0 1892.17,1013.04 Z" fill="#d3e8f1"/><line x1="1897.30" y1="1012.20" x2="1897.30" y2="999.70" stroke="#f6f9fb" stroke-width="1.7"/><line x1="1900.41" y1="1062.41" x2="1901.96" y2="1074.81" stroke="#f6f9fb" stroke-width="1.7"/><line x1="1876.58" y1="1051.75" x2="1866.31" y2="1058.86" stroke="#f6f9fb" stroke-width="1.7"/><line x1="1872.65" y1="1032.16" x2="1860.42" y2="1029.56" stroke="#f6f9fb" stroke-width="1.7"/><line x1="1881.27" y1="1017.96" x2="1873.32" y2="1008.31" stroke="#f6f9fb" stroke-width="1.7"/><line x1="1892.10" y1="1012.74" x2="1889.53" y2="1000.51" stroke="#f6f9fb" stroke-width="1.7"/><circle cx="1897.3" cy="1037.4" r="25.4" fill="#7ab0cc"/><circle cx="1897.3" cy="1037.4" r="25.15" fill="none" stroke="#ffffff" stroke-opacity="0.6" stroke-width="0.75"/>
<text x="1897.3" y="1043.2" font-size="16" fill="#fff" text-anchor="middle" textLength="26.6" lengthAdjust="spacing">303</text>
<path d="M1877.90,1071.40 A37.2,37.2 0 0 1 1883.59,1145.36 L1881.71,1133.21 A24.9,24.9 0 0 0 1877.90,1083.70 Z" fill="#7ab0cc"/><path d="M1883.59,1145.36 A37.2,37.2 0 0 1 1850.43,1133.68 L1859.51,1125.39 A24.9,24.9 0 0 0 1881.71,1133.21 Z" fill="#8bbbd3"/><path d="M1850.43,1133.68 A37.2,37.2 0 0 1 1841.03,1103.68 L1853.22,1105.31 A24.9,24.9 0 0 0 1859.51,1125.39 Z" fill="#9cc6da"/><path d="M1841.03,1103.68 A37.2,37.2 0 0 1 1856.88,1077.91 L1863.83,1088.05 A24.9,24.9 0 0 0 1853.22,1105.31 Z" fill="#add0e1"/><path d="M1856.88,1077.91 A37.2,37.2 0 0 1 1869.41,1072.38 L1872.21,1084.36 A24.9,24.9 0 0 0 1863.83,1088.05 Z" fill="#c0dde9"/><path d="M1869.41,1072.38 A37.2,37.2 0 0 1 1877.90,1071.40 L1877.90,1083.70 A24.9,24.9 0 0 0 1872.21,1084.36 Z" fill="#d3e8f1"/><line x1="1877.90" y1="1083.40" x2="1877.90" y2="1071.10" stroke="#f6f9fb" stroke-width="1.7"/><line x1="1881.76" y1="1133.50" x2="1883.64" y2="1145.66" stroke="#f6f9fb" stroke-width="1.7"/><line x1="1859.29" y1="1125.59" x2="1850.21" y2="1133.89" stroke="#f6f9fb" stroke-width="1.7"/><line x1="1852.92" y1="1105.27" x2="1840.73" y2="1103.64" stroke="#f6f9fb" stroke-width="1.7"/><line x1="1863.66" y1="1087.81" x2="1856.71" y2="1077.66" stroke="#f6f9fb" stroke-width="1.7"/><line x1="1872.15" y1="1084.07" x2="1869.34" y2="1072.09" stroke="#f6f9fb" stroke-width="1.7"/><circle cx="1877.9" cy="1108.6" r="25.4" fill="#7ab0cc"/><circle cx="1877.9" cy="1108.6" r="25.15" fill="none" stroke="#ffffff" stroke-opacity="0.6" stroke-width="0.75"/>
<text x="1877.9" y="1114.4" font-size="16" fill="#fff" text-anchor="middle" textLength="26.6" lengthAdjust="spacing">303</text>
<path d="M1651.70,1149.60 A17.4,17.4 0 0 1 1651.70,1184.40 L1651.70,1178.10 A11.1,11.1 0 0 0 1651.70,1155.90 Z" fill="#7ab0cc"/><path d="M1651.70,1184.40 A17.4,17.4 0 0 1 1636.56,1175.57 L1642.04,1172.47 A11.1,11.1 0 0 0 1651.70,1178.10 Z" fill="#8bbbd3"/><path d="M1636.56,1175.57 A17.4,17.4 0 0 1 1634.89,1162.50 L1640.98,1164.13 A11.1,11.1 0 0 0 1642.04,1172.47 Z" fill="#9cc6da"/><path d="M1634.89,1162.50 A17.4,17.4 0 0 1 1641.16,1153.16 L1644.97,1158.17 A11.1,11.1 0 0 0 1640.98,1164.13 Z" fill="#add0e1"/><path d="M1641.16,1153.16 A17.4,17.4 0 0 1 1647.34,1150.15 L1648.92,1156.25 A11.1,11.1 0 0 0 1644.97,1158.17 Z" fill="#c0dde9"/><path d="M1647.34,1150.15 A17.4,17.4 0 0 1 1651.70,1149.60 L1651.70,1155.90 A11.1,11.1 0 0 0 1648.92,1156.25 Z" fill="#d3e8f1"/><line x1="1651.70" y1="1155.60" x2="1651.70" y2="1149.30" stroke="#f6f9fb" stroke-width="1.25"/><line x1="1651.70" y1="1178.40" x2="1651.70" y2="1184.70" stroke="#f6f9fb" stroke-width="1.25"/><line x1="1641.78" y1="1172.61" x2="1636.29" y2="1175.72" stroke="#f6f9fb" stroke-width="1.25"/><line x1="1640.69" y1="1164.05" x2="1634.60" y2="1162.42" stroke="#f6f9fb" stroke-width="1.25"/><line x1="1644.79" y1="1157.93" x2="1640.97" y2="1152.92" stroke="#f6f9fb" stroke-width="1.25"/><line x1="1648.85" y1="1155.96" x2="1647.27" y2="1149.86" stroke="#f6f9fb" stroke-width="1.25"/><circle cx="1651.7" cy="1167" r="11.6" fill="#7ab0cc"/><circle cx="1651.7" cy="1167" r="11.35" fill="none" stroke="#ffffff" stroke-opacity="0.42" stroke-width="0.75"/>
<text x="1651.7" y="1169.7" font-size="7.6" fill="#fff" text-anchor="middle" textLength="12.2" lengthAdjust="spacing">133</text>
<path d="M2044.00,1097.30 A17.1,17.1 0 0 1 2044.00,1131.50 L2044.00,1125.70 A11.3,11.3 0 0 0 2044.00,1103.10 Z" fill="#7ab0cc"/><path d="M2044.00,1131.50 A17.1,17.1 0 0 1 2027.39,1118.48 L2033.03,1117.10 A11.3,11.3 0 0 0 2044.00,1125.70 Z" fill="#8bbbd3"/><path d="M2027.39,1118.48 A17.1,17.1 0 0 1 2028.11,1108.08 L2033.50,1110.22 A11.3,11.3 0 0 0 2033.03,1117.10 Z" fill="#9cc6da"/><path d="M2028.11,1108.08 A17.1,17.1 0 0 1 2034.69,1100.06 L2037.85,1104.92 A11.3,11.3 0 0 0 2033.50,1110.22 Z" fill="#add0e1"/><path d="M2034.69,1100.06 A17.1,17.1 0 0 1 2040.21,1097.72 L2041.50,1103.38 A11.3,11.3 0 0 0 2037.85,1104.92 Z" fill="#c0dde9"/><path d="M2040.21,1097.72 A17.1,17.1 0 0 1 2044.00,1097.30 L2044.00,1103.10 A11.3,11.3 0 0 0 2041.50,1103.38 Z" fill="#d3e8f1"/><line x1="2044.00" y1="1102.80" x2="2044.00" y2="1097.00" stroke="#f6f9fb" stroke-width="1.25"/><line x1="2044.00" y1="1126.00" x2="2044.00" y2="1131.80" stroke="#f6f9fb" stroke-width="1.25"/><line x1="2032.73" y1="1117.17" x2="2027.10" y2="1118.55" stroke="#f6f9fb" stroke-width="1.25"/><line x1="2033.22" y1="1110.11" x2="2027.83" y2="1107.97" stroke="#f6f9fb" stroke-width="1.25"/><line x1="2037.68" y1="1104.67" x2="2034.52" y2="1099.81" stroke="#f6f9fb" stroke-width="1.25"/><line x1="2041.43" y1="1103.09" x2="2040.15" y2="1097.43" stroke="#f6f9fb" stroke-width="1.25"/><circle cx="2044" cy="1114.4" r="11.8" fill="#7ab0cc"/><circle cx="2044" cy="1114.4" r="11.55" fill="none" stroke="#ffffff" stroke-opacity="0.42" stroke-width="0.75"/>
<text x="2044.0" y="1117.1" font-size="7.6" fill="#fff" text-anchor="middle" textLength="12.0" lengthAdjust="spacing">131</text>
<path d="M1996.70,1153.30 A18.8,18.8 0 1 1 1991.83,1190.26 L1993.54,1183.88 A12.2,12.2 0 1 0 1996.70,1159.90 Z" fill="#7ab0cc"/><path d="M1991.83,1190.26 A18.8,18.8 0 0 1 1979.32,1179.26 L1985.42,1176.75 A12.2,12.2 0 0 0 1993.54,1183.88 Z" fill="#8bbbd3"/><path d="M1979.32,1179.26 A18.8,18.8 0 0 1 1978.30,1168.26 L1984.76,1169.61 A12.2,12.2 0 0 0 1985.42,1176.75 Z" fill="#9cc6da"/><path d="M1978.30,1168.26 A18.8,18.8 0 0 1 1984.29,1157.98 L1988.65,1162.93 A12.2,12.2 0 0 0 1984.76,1169.61 Z" fill="#add0e1"/><path d="M1984.29,1157.98 A18.8,18.8 0 0 1 1991.23,1154.11 L1993.15,1160.43 A12.2,12.2 0 0 0 1988.65,1162.93 Z" fill="#c0dde9"/><path d="M1991.23,1154.11 A18.8,18.8 0 0 1 1996.70,1153.30 L1996.70,1159.90 A12.2,12.2 0 0 0 1993.15,1160.43 Z" fill="#d3e8f1"/><line x1="1996.70" y1="1159.60" x2="1996.70" y2="1153.00" stroke="#f6f9fb" stroke-width="1.25"/><line x1="1993.46" y1="1184.17" x2="1991.76" y2="1190.55" stroke="#f6f9fb" stroke-width="1.25"/><line x1="1985.14" y1="1176.86" x2="1979.04" y2="1179.38" stroke="#f6f9fb" stroke-width="1.25"/><line x1="1984.46" y1="1169.54" x2="1978.00" y2="1168.19" stroke="#f6f9fb" stroke-width="1.25"/><line x1="1988.45" y1="1162.71" x2="1984.09" y2="1157.75" stroke="#f6f9fb" stroke-width="1.25"/><line x1="1993.07" y1="1160.14" x2="1991.15" y2="1153.82" stroke="#f6f9fb" stroke-width="1.25"/><circle cx="1996.7" cy="1172.1" r="12.7" fill="#7ab0cc"/><circle cx="1996.7" cy="1172.1" r="12.45" fill="none" stroke="#ffffff" stroke-opacity="0.42" stroke-width="0.75"/>
<text x="1996.7" y="1175.1" font-size="8.2" fill="#fff" text-anchor="middle" textLength="13.0" lengthAdjust="spacing">144</text>
</g>
<rect x="1510.7" y="849.4" width="34.6" height="69.3" rx="4" fill="#fff" stroke="#c4c4c6" stroke-width="2.2"/>
<line x1="1511.8" y1="884.3" x2="1544.2" y2="884.3" stroke="#e6e6e6" stroke-width="1"/>
<path d="M1520.8,867.6 H1535.2 M1528,860.4 V874.8" stroke="#000" stroke-width="2.6" fill="none"/>
<path d="M1520.8,901.4 H1535.2" stroke="#000" stroke-width="2.4" fill="none"/>
<rect x="1502.8" y="1105.6" width="38.2" height="37.8" rx="4.5" fill="#fff" stroke="#c2c2c4" stroke-width="2.3"/>
<g fill="none" stroke="#777" stroke-width="1.5" stroke-linecap="round"><ellipse cx="1522.2" cy="1122.5" rx="7.9" ry="6.1"/><path d="M1518.4,1127.6 a2,1.6 0 1 0 3,1.2 M1521.2,1129.2 C1523.2,1130.6 1522.2,1133.4 1519.8,1134.6"/></g>
<rect x="1502.6" y="1155.7" width="87.2" height="39.2" fill="#ffffff" fill-opacity="0.5"/>
<g stroke="#777" stroke-width="2.2" fill="none"><path d="M1503.7,1155.7 V1194.9 M1502.6,1175.3 H1589.8 M1588.6,1155.7 V1175.3 M1585.6,1175.3 V1194.9"/></g>
<text x="1511.0" y="1168.8" font-size="13" fill="#333" textLength="44.1" lengthAdjust="spacing">500 km</text>
<text x="1511.0" y="1189.8" font-size="13" fill="#333" textLength="40.0" lengthAdjust="spacing">300 mi</text>
<g transform="translate(2135,857.5)"><circle r="8.9" fill="none" stroke="#929296" stroke-width="1.6"/><text x="0" y="4.6" font-size="13" font-weight="700" fill="#929296" text-anchor="middle">?</text></g>
</svg>
</body></html>
